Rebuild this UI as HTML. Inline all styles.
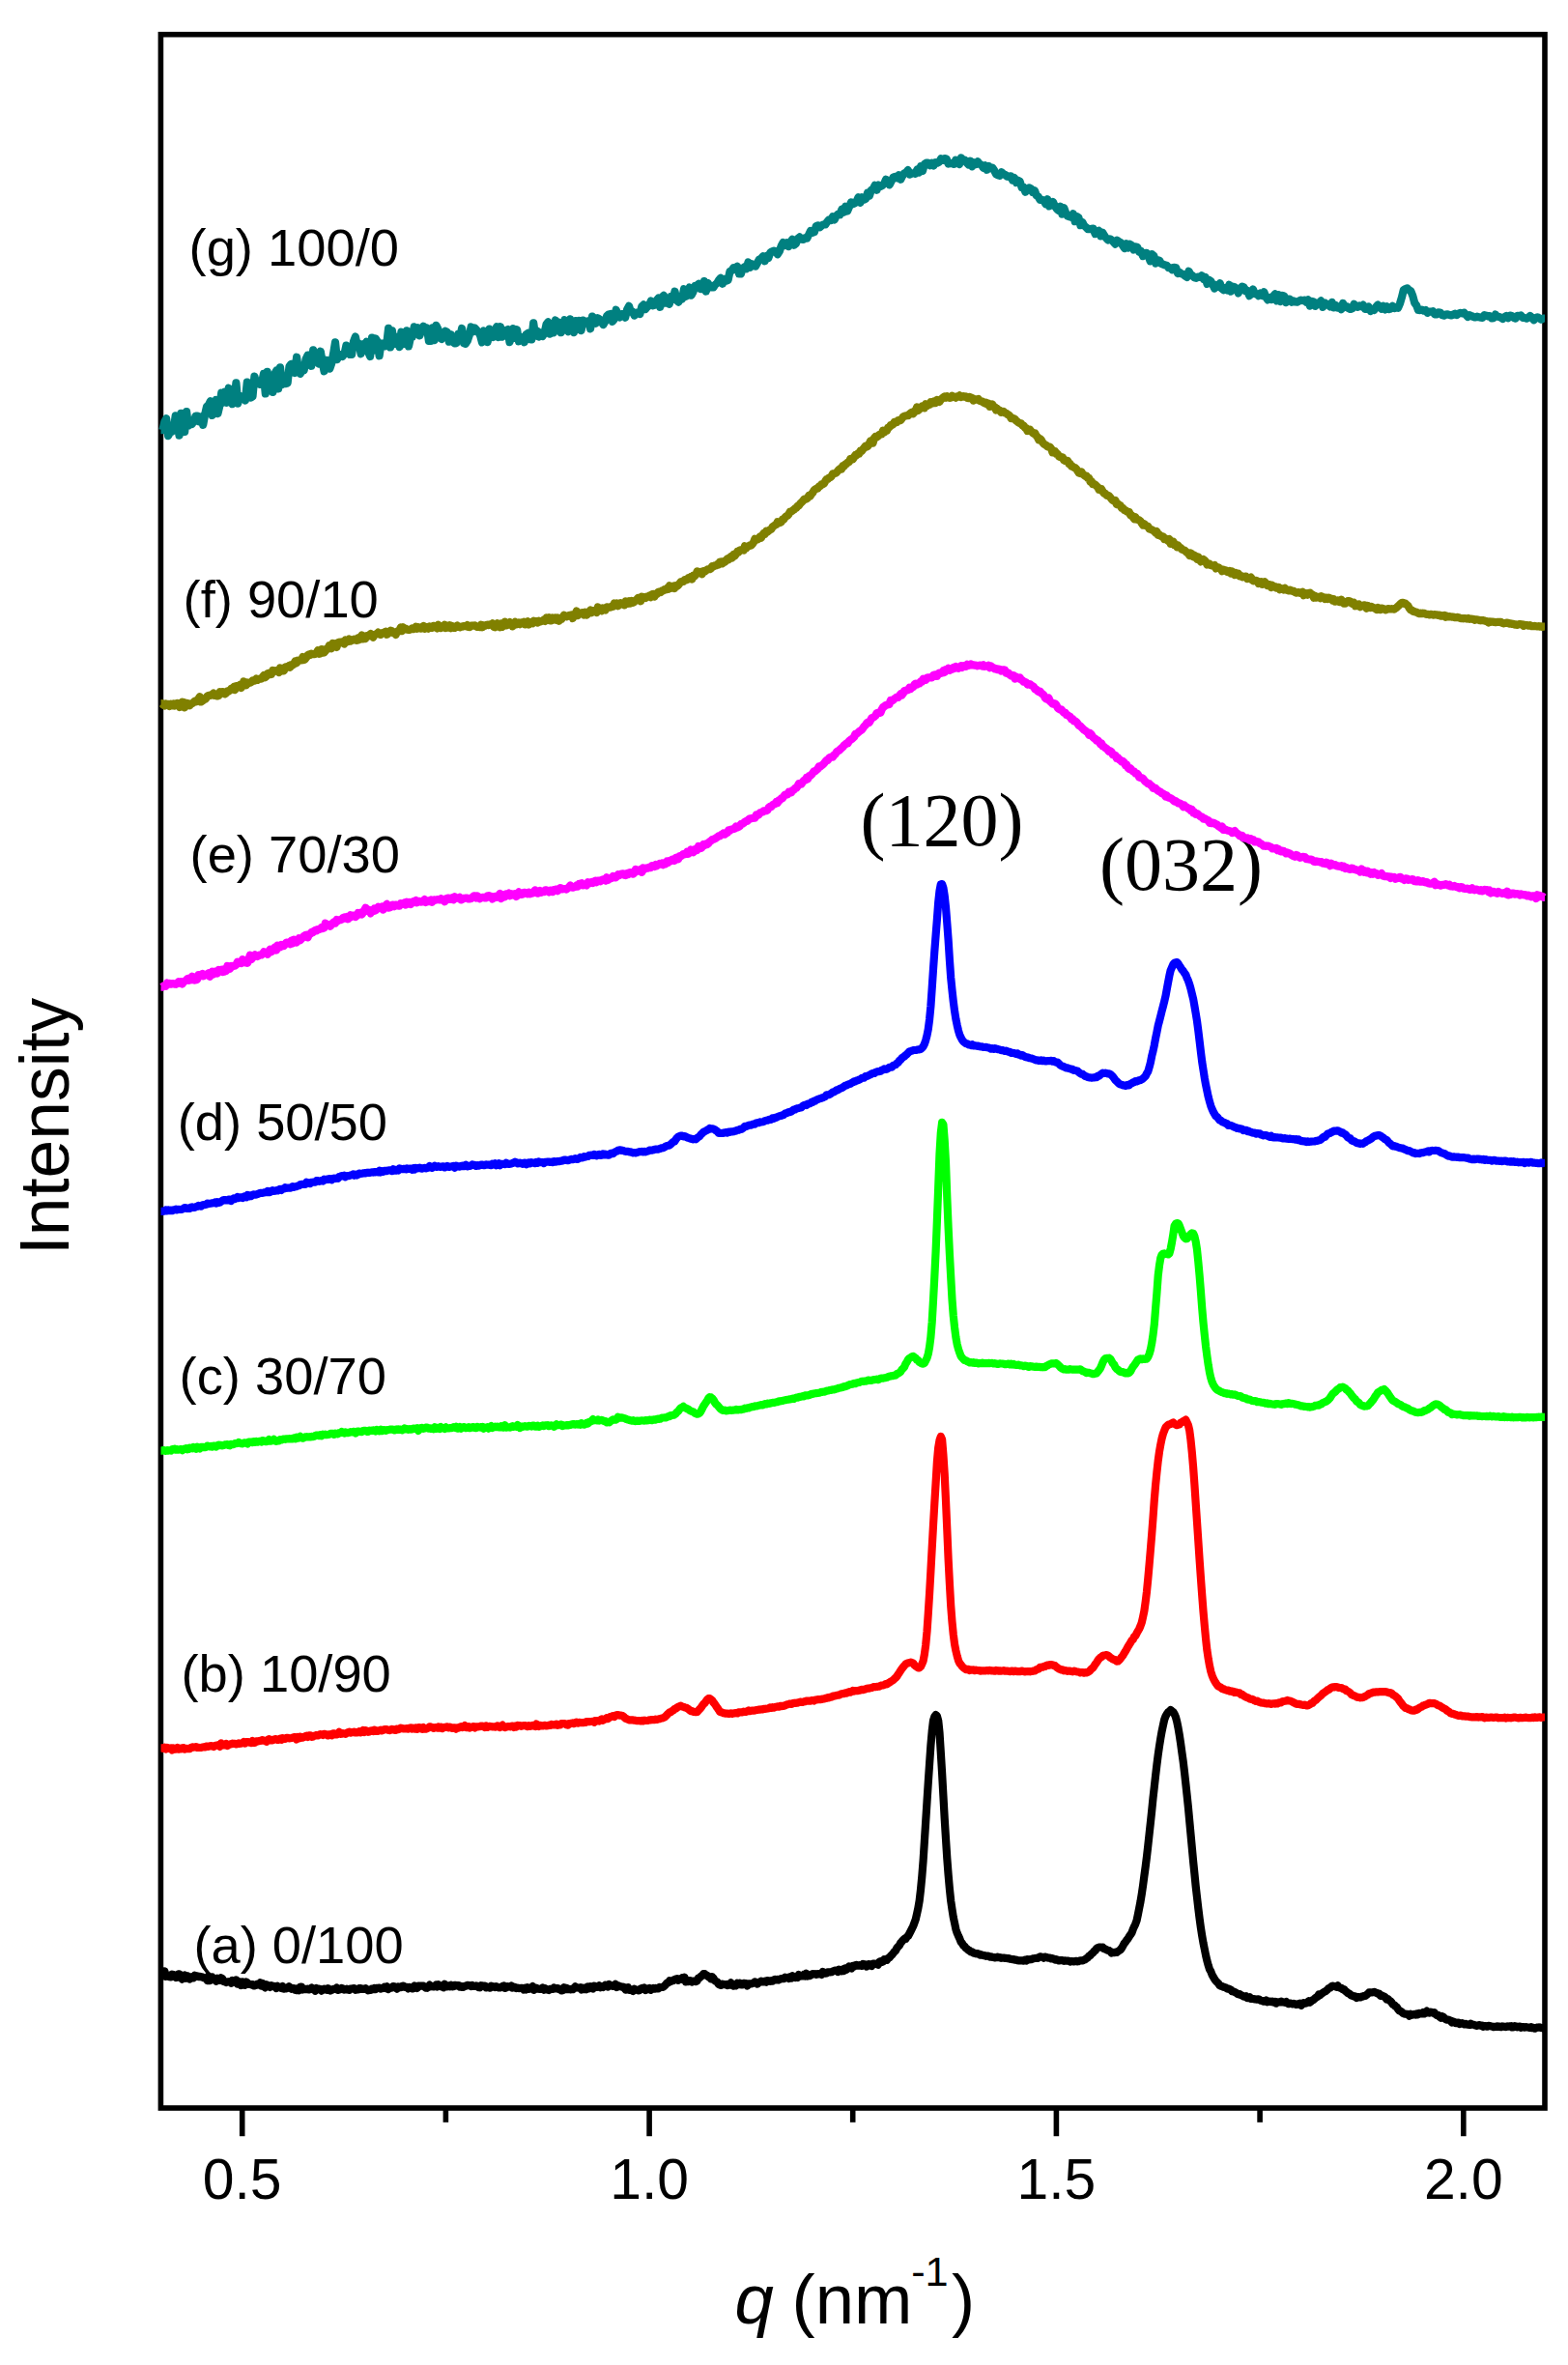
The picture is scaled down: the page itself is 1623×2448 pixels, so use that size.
<!DOCTYPE html>
<html lang="en"><head><meta charset="utf-8"><title>SAXS profiles</title>
<style>html,body{margin:0;padding:0;background:#fff}body{width:1623px;height:2448px;overflow:hidden}svg{display:block}.s{font-family:"Liberation Sans",Arial,Helvetica,sans-serif;fill:#000}.t{font-family:"Liberation Serif","Times New Roman",Times,serif;fill:#000}.c{fill:none;stroke-width:8.2;stroke-linejoin:round;stroke-linecap:butt}</style></head><body>
<svg width="1623" height="2448" viewBox="0 0 1623 2448">
<rect x="0" y="0" width="1623" height="2448" fill="#fff"/>
<g stroke="#000" stroke-width="5.6" fill="none" stroke-linecap="butt">
<line x1="250.7" y1="2182.0" x2="250.7" y2="2211.2"/>
<line x1="672.1" y1="2182.0" x2="672.1" y2="2211.2"/>
<line x1="1093.4" y1="2182.0" x2="1093.4" y2="2211.2"/>
<line x1="1514.8" y1="2182.0" x2="1514.8" y2="2211.2"/>
<line x1="461.4" y1="2182.0" x2="461.4" y2="2196.8"/>
<line x1="882.7" y1="2182.0" x2="882.7" y2="2196.8"/>
<line x1="1304.1" y1="2182.0" x2="1304.1" y2="2196.8"/>
</g>
<rect x="166.4" y="35.7" width="1432.6" height="2146.3" fill="none" stroke="#000" stroke-width="5.6"/>
<text class="t" x="890.5" y="875.2" font-size="78">(120)</text>
<text class="t" x="1138" y="920.5" font-size="78">(032)</text>
<polyline class="c" stroke="#000000" points="166.5,2045.1 167.8,2045.1 169.1,2044.7 170.4,2040.5 171.7,2045.7 173.0,2045.1 174.3,2044.7 175.6,2046.3 176.9,2046.5 178.2,2043.7 179.5,2044.0 180.8,2044.8 182.1,2047.0 183.4,2046.7 184.7,2043.3 186.0,2043.6 187.3,2047.0 188.6,2048.6 189.9,2045.6 191.2,2044.5 192.5,2047.7 193.8,2045.2 195.1,2047.0 196.4,2048.4 197.7,2046.9 199.0,2046.0 200.3,2047.2 201.6,2044.9 202.9,2045.8 204.2,2045.3 205.5,2046.1 206.8,2045.8 208.1,2046.4 209.4,2046.3 210.7,2047.2 212.0,2047.4 213.3,2048.0 214.6,2049.9 215.9,2045.4 217.2,2050.1 218.5,2047.9 219.8,2046.6 221.1,2048.4 222.4,2049.1 223.7,2050.7 225.0,2047.7 226.3,2049.8 227.6,2049.8 228.9,2047.3 230.2,2048.2 231.5,2051.0 232.8,2051.3 234.1,2052.0 235.4,2051.3 236.7,2051.3 238.0,2051.1 239.3,2052.7 240.6,2050.0 241.9,2051.2 243.2,2052.0 244.5,2049.5 245.8,2053.6 247.1,2050.9 248.4,2052.1 249.7,2055.1 251.0,2051.4 252.3,2051.9 253.6,2054.8 254.9,2051.5 256.2,2052.5 257.5,2053.9 258.8,2053.9 260.1,2054.3 261.4,2054.1 262.7,2055.5 264.0,2055.2 265.3,2054.8 266.6,2053.5 267.9,2053.6 269.2,2052.4 270.5,2055.6 271.8,2052.9 273.1,2056.1 274.4,2057.3 275.7,2054.3 277.0,2054.9 278.3,2055.2 279.6,2056.8 280.9,2055.2 282.2,2056.1 283.5,2055.8 284.8,2056.3 286.1,2058.0 287.4,2055.9 288.7,2057.0 290.0,2057.4 291.3,2058.0 292.6,2056.1 293.9,2058.5 295.2,2057.9 296.5,2058.4 297.8,2057.8 299.1,2056.3 300.4,2057.3 301.7,2058.7 303.0,2058.0 304.3,2058.0 305.6,2059.8 306.9,2060.2 308.2,2058.3 309.5,2060.1 310.8,2056.7 312.1,2056.7 313.4,2059.4 314.7,2058.4 316.0,2059.2 317.3,2059.2 318.6,2058.7 319.9,2059.5 321.2,2059.0 322.5,2057.6 323.8,2059.2 325.1,2059.2 326.4,2060.7 327.7,2058.1 329.0,2059.1 330.3,2058.7 331.6,2059.0 332.9,2060.6 334.2,2059.4 335.5,2058.7 336.8,2059.2 338.1,2059.8 339.4,2058.2 340.7,2058.9 342.0,2060.5 343.3,2059.9 344.6,2059.1 345.9,2058.7 347.2,2059.0 348.5,2057.7 349.8,2059.9 351.1,2059.4 352.4,2059.2 353.7,2057.9 355.0,2058.5 356.3,2059.6 357.6,2059.3 358.9,2058.7 360.2,2059.5 361.5,2059.9 362.8,2058.5 364.1,2058.6 365.4,2058.3 366.7,2058.1 368.0,2059.8 369.3,2059.5 370.6,2059.4 371.9,2058.0 373.2,2058.1 374.5,2058.9 375.8,2058.5 377.1,2059.0 378.4,2058.2 379.7,2059.3 381.0,2060.3 382.3,2060.0 383.6,2060.0 384.9,2058.6 386.2,2059.2 387.5,2058.0 388.8,2059.1 390.1,2057.9 391.4,2057.7 392.7,2057.5 394.0,2058.6 395.3,2058.2 396.6,2058.0 397.9,2056.8 399.2,2057.9 400.5,2056.4 401.8,2059.0 403.1,2057.5 404.4,2057.8 405.7,2057.5 407.0,2056.1 408.3,2056.3 409.6,2057.4 410.9,2058.7 412.2,2056.4 413.5,2056.7 414.8,2057.2 416.1,2055.8 417.4,2055.7 418.7,2056.8 420.0,2057.1 421.3,2056.8 422.6,2058.4 423.9,2056.9 425.2,2057.3 426.5,2058.4 427.8,2058.4 429.1,2055.5 430.4,2056.5 431.7,2057.8 433.0,2055.6 434.3,2055.9 435.6,2055.6 436.9,2055.5 438.2,2055.6 439.5,2056.7 440.8,2057.6 442.1,2057.8 443.4,2056.4 444.7,2054.7 446.0,2056.3 447.3,2056.0 448.6,2056.5 449.9,2056.1 451.2,2054.6 452.5,2056.4 453.8,2054.2 455.1,2055.4 456.4,2056.2 457.7,2056.2 459.0,2057.2 460.3,2053.8 461.6,2056.1 462.9,2056.4 464.2,2055.5 465.5,2056.3 466.8,2054.8 468.1,2056.3 469.4,2056.2 470.7,2054.8 472.0,2055.1 473.3,2055.5 474.6,2055.1 475.9,2056.6 477.2,2055.9 478.5,2056.9 479.8,2056.8 481.1,2055.8 482.4,2055.6 483.7,2054.9 485.0,2055.1 486.3,2055.1 487.6,2056.1 488.9,2055.0 490.2,2055.9 491.5,2056.0 492.8,2055.4 494.1,2055.7 495.4,2057.1 496.7,2057.3 498.0,2055.2 499.3,2055.8 500.6,2055.6 501.9,2055.7 503.2,2057.3 504.5,2056.6 505.8,2057.1 507.1,2057.6 508.4,2055.7 509.7,2056.0 511.0,2056.2 512.3,2057.1 513.6,2056.2 514.9,2056.9 516.2,2057.4 517.5,2057.5 518.8,2056.9 520.1,2056.0 521.4,2055.4 522.7,2057.8 524.0,2057.3 525.3,2056.1 526.6,2056.6 527.9,2056.7 529.2,2055.7 530.5,2057.5 531.8,2056.7 533.1,2057.2 534.4,2058.1 535.7,2057.5 537.0,2058.1 538.3,2058.0 539.6,2057.8 540.9,2057.8 542.2,2059.5 543.5,2057.8 544.8,2059.4 546.1,2057.3 547.4,2058.8 548.7,2058.4 550.0,2057.6 551.3,2056.1 552.6,2059.8 553.9,2057.5 555.2,2057.7 556.5,2058.7 557.8,2058.7 559.1,2059.0 560.4,2058.6 561.7,2057.6 563.0,2059.6 564.3,2058.2 565.6,2059.2 566.9,2059.5 568.2,2060.1 569.5,2058.9 570.8,2058.8 572.1,2058.9 573.4,2057.5 574.7,2058.5 576.0,2058.2 577.3,2058.1 578.6,2059.2 579.9,2058.8 581.2,2060.4 582.5,2060.2 583.8,2057.3 585.1,2059.0 586.4,2058.0 587.7,2059.2 589.0,2058.8 590.3,2059.4 591.6,2058.9 592.9,2059.2 594.2,2058.2 595.5,2056.3 596.8,2057.3 598.1,2057.5 599.4,2057.8 600.7,2057.2 602.0,2059.4 603.3,2057.8 604.6,2059.0 605.9,2057.5 607.2,2059.1 608.5,2056.6 609.8,2058.1 611.1,2056.3 612.4,2057.7 613.7,2058.5 615.0,2055.7 616.3,2056.2 617.6,2056.9 618.9,2056.4 620.2,2055.3 621.5,2057.2 622.8,2056.1 624.1,2057.0 625.4,2056.0 626.7,2054.7 628.0,2055.1 629.3,2056.5 630.6,2054.1 631.9,2054.8 633.2,2055.6 634.5,2055.9 635.8,2055.7 637.1,2053.8 638.4,2056.9 639.7,2055.2 641.0,2055.8 642.3,2056.2 643.6,2056.6 644.9,2056.5 646.2,2057.6 647.5,2059.5 648.8,2057.7 650.1,2057.2 651.4,2059.9 652.7,2059.8 654.0,2060.1 655.3,2060.9 656.6,2058.8 657.9,2059.6 659.2,2059.8 660.5,2060.4 661.8,2060.2 663.1,2058.5 664.4,2058.0 665.7,2058.9 667.0,2057.7 668.3,2059.9 669.6,2058.5 670.9,2058.5 672.2,2057.9 673.5,2059.8 674.8,2058.7 676.1,2058.0 677.4,2058.7 678.7,2057.9 680.0,2058.2 681.3,2058.5 682.6,2056.9 683.9,2057.2 685.2,2056.8 686.5,2056.8 687.8,2055.6 689.1,2054.2 690.4,2052.6 691.7,2052.4 693.0,2050.3 694.3,2051.0 695.6,2050.0 696.9,2050.1 698.2,2049.0 699.5,2048.5 700.8,2048.2 702.1,2049.7 703.4,2048.5 704.7,2048.5 706.0,2047.4 707.3,2049.2 708.6,2046.9 709.9,2051.4 711.2,2050.6 712.5,2051.1 713.8,2050.0 715.1,2050.2 716.4,2051.5 717.7,2050.6 719.0,2050.8 720.3,2051.2 721.6,2050.3 722.9,2047.4 724.2,2047.1 725.5,2045.7 726.8,2044.9 728.1,2043.2 729.4,2043.1 730.7,2044.4 732.0,2044.9 733.3,2046.3 734.6,2046.2 735.9,2048.3 737.2,2046.3 738.5,2047.6 739.8,2050.1 741.1,2050.9 742.4,2051.5 743.7,2053.8 745.0,2054.6 746.3,2054.9 747.6,2053.6 748.9,2054.0 750.2,2054.2 751.5,2054.2 752.8,2055.0 754.1,2053.8 755.4,2054.5 756.7,2052.4 758.0,2054.9 759.3,2055.6 760.6,2054.3 761.9,2055.2 763.2,2052.9 764.5,2054.0 765.8,2052.9 767.1,2054.4 768.4,2054.5 769.7,2052.8 771.0,2053.1 772.3,2053.2 773.6,2055.5 774.9,2053.3 776.2,2053.3 777.5,2053.4 778.8,2053.1 780.1,2052.5 781.4,2051.4 782.7,2051.8 784.0,2053.5 785.3,2052.2 786.6,2051.5 787.9,2050.6 789.2,2051.4 790.5,2051.3 791.8,2050.6 793.1,2051.6 794.4,2050.2 795.7,2050.3 797.0,2050.9 798.3,2050.2 799.6,2050.7 800.9,2049.3 802.2,2048.9 803.5,2049.4 804.8,2048.9 806.1,2049.5 807.4,2048.6 808.7,2048.1 810.0,2048.2 811.3,2048.2 812.6,2046.6 813.9,2047.2 815.2,2046.8 816.5,2047.9 817.8,2046.4 819.1,2047.5 820.4,2045.4 821.7,2046.3 823.0,2047.0 824.3,2045.8 825.6,2046.8 826.9,2044.1 828.2,2045.6 829.5,2045.5 830.8,2045.2 832.1,2043.9 833.4,2045.5 834.7,2042.9 836.0,2045.4 837.3,2044.7 838.6,2045.1 839.9,2043.9 841.2,2043.1 842.5,2043.4 843.8,2043.2 845.1,2043.9 846.4,2043.0 847.7,2043.4 849.0,2043.3 850.3,2043.9 851.6,2040.9 852.9,2042.0 854.2,2042.7 855.5,2042.5 856.8,2041.3 858.1,2041.3 859.4,2041.3 860.7,2041.2 862.0,2040.4 863.3,2040.1 864.6,2039.5 865.9,2039.8 867.2,2041.0 868.5,2038.8 869.8,2039.9 871.1,2040.4 872.4,2038.6 873.7,2039.9 875.0,2037.5 876.3,2038.6 877.6,2036.8 878.9,2035.5 880.2,2036.4 881.5,2037.3 882.8,2034.9 884.1,2035.5 885.4,2034.0 886.7,2033.9 888.0,2034.7 889.3,2034.0 890.6,2034.5 891.9,2034.9 893.2,2032.9 894.5,2033.2 895.8,2033.7 897.1,2035.4 898.4,2033.2 899.7,2033.0 901.0,2033.7 902.3,2034.9 903.6,2032.7 904.9,2032.7 906.2,2032.8 907.5,2033.0 908.8,2033.7 910.1,2030.8 911.4,2030.1 912.7,2030.9 914.0,2030.6 915.3,2028.1 916.6,2028.5 917.9,2028.9 919.2,2027.0 920.5,2026.4 921.8,2024.8 923.1,2023.6 924.4,2022.0 925.7,2020.3 927.0,2019.3 928.3,2016.5 929.6,2015.0 930.9,2013.8 932.2,2011.1 933.5,2009.7 934.8,2008.1 936.1,2006.8 937.4,2007.0 938.7,2004.9 940.0,2004.0 941.3,2001.5 942.6,1999.0 943.9,1996.4 945.2,1993.7 946.5,1990.2 947.8,1986.6 949.1,1980.8 950.4,1974.9 951.7,1967.2 953.0,1956.0 954.3,1942.4 955.6,1926.0 956.9,1905.8 958.2,1885.4 959.5,1865.0 960.8,1844.8 962.1,1825.6 963.4,1806.8 964.7,1792.0 966.0,1781.0 967.3,1776.9 968.6,1775.1 969.9,1776.3 971.2,1781.0 972.5,1793.4 973.8,1813.9 975.1,1835.3 976.4,1858.7 977.7,1882.2 979.0,1903.3 980.3,1923.6 981.6,1940.4 982.9,1955.1 984.2,1967.5 985.5,1976.4 986.8,1984.7 988.1,1990.7 989.4,1996.9 990.7,2000.9 992.0,2003.9 993.3,2006.6 994.6,2010.2 995.9,2011.5 997.2,2013.8 998.5,2014.8 999.8,2016.5 1001.1,2017.4 1002.4,2018.7 1003.7,2019.2 1005.0,2020.4 1006.3,2020.4 1007.6,2021.6 1008.9,2021.7 1010.2,2022.3 1011.5,2022.1 1012.8,2022.4 1014.1,2023.6 1015.4,2023.2 1016.7,2023.8 1018.0,2024.1 1019.3,2024.2 1020.6,2024.8 1021.9,2024.5 1023.2,2024.8 1024.5,2025.6 1025.8,2025.3 1027.1,2025.9 1028.4,2026.0 1029.7,2026.4 1031.0,2026.2 1032.3,2025.6 1033.6,2026.1 1034.9,2026.2 1036.2,2026.8 1037.5,2026.6 1038.8,2026.5 1040.1,2026.9 1041.4,2026.8 1042.7,2027.2 1044.0,2027.2 1045.3,2027.7 1046.6,2027.8 1047.9,2028.2 1049.2,2028.2 1050.5,2028.7 1051.8,2028.7 1053.1,2029.2 1054.4,2029.3 1055.7,2029.4 1057.0,2029.4 1058.3,2029.4 1059.6,2029.6 1060.9,2028.6 1062.2,2029.5 1063.5,2028.2 1064.8,2028.5 1066.1,2028.2 1067.4,2028.2 1068.7,2027.7 1070.0,2027.2 1071.3,2027.0 1072.6,2026.9 1073.9,2027.0 1075.2,2026.2 1076.5,2025.3 1077.8,2025.6 1079.1,2025.8 1080.4,2026.7 1081.7,2025.6 1083.0,2025.9 1084.3,2026.4 1085.6,2026.6 1086.9,2026.5 1088.2,2027.5 1089.5,2027.2 1090.8,2027.8 1092.1,2028.6 1093.4,2028.1 1094.7,2028.7 1096.0,2029.5 1097.3,2029.1 1098.6,2029.0 1099.9,2029.3 1101.2,2029.9 1102.5,2029.3 1103.8,2029.7 1105.1,2029.6 1106.4,2029.8 1107.7,2030.6 1109.0,2030.2 1110.3,2030.2 1111.6,2030.4 1112.9,2030.0 1114.2,2029.8 1115.5,2030.3 1116.8,2030.1 1118.1,2029.3 1119.4,2029.5 1120.7,2029.4 1122.0,2028.7 1123.3,2028.3 1124.6,2027.1 1125.9,2026.4 1127.2,2024.6 1128.5,2024.2 1129.8,2022.4 1131.1,2021.6 1132.4,2019.8 1133.7,2019.0 1135.0,2016.9 1136.3,2016.1 1137.6,2015.7 1138.9,2015.6 1140.2,2015.8 1141.5,2015.7 1142.8,2017.1 1144.1,2017.5 1145.4,2018.2 1146.7,2018.8 1148.0,2019.1 1149.3,2020.2 1150.6,2021.5 1151.9,2020.8 1153.2,2021.2 1154.5,2020.6 1155.8,2021.0 1157.1,2020.0 1158.4,2019.1 1159.7,2018.3 1161.0,2016.5 1162.3,2014.2 1163.6,2011.8 1164.9,2010.3 1166.2,2008.3 1167.5,2006.8 1168.8,2004.5 1170.1,2002.7 1171.4,2000.7 1172.7,1997.2 1174.0,1994.2 1175.3,1991.4 1176.6,1987.8 1177.9,1981.6 1179.2,1975.0 1180.5,1968.4 1181.8,1960.3 1183.1,1951.5 1184.4,1941.6 1185.7,1932.1 1187.0,1921.8 1188.3,1910.4 1189.6,1898.4 1190.9,1886.5 1192.2,1874.2 1193.5,1861.2 1194.8,1849.6 1196.1,1837.9 1197.4,1826.8 1198.7,1816.6 1200.0,1807.5 1201.3,1799.3 1202.6,1792.1 1203.9,1785.9 1205.2,1780.0 1206.5,1776.5 1207.8,1774.1 1209.1,1772.3 1210.4,1771.5 1211.7,1770.1 1213.0,1771.1 1214.3,1772.0 1215.6,1774.1 1216.9,1777.1 1218.2,1782.0 1219.5,1788.4 1220.8,1796.0 1222.1,1804.7 1223.4,1814.1 1224.7,1823.4 1226.0,1834.2 1227.3,1846.0 1228.6,1858.1 1229.9,1870.6 1231.2,1884.7 1232.5,1898.6 1233.8,1912.7 1235.1,1926.7 1236.4,1939.3 1237.7,1952.5 1239.0,1963.9 1240.3,1975.2 1241.6,1985.7 1242.9,1995.2 1244.2,2003.6 1245.5,2011.1 1246.8,2017.5 1248.1,2024.0 1249.4,2029.7 1250.7,2034.3 1252.0,2038.4 1253.3,2040.6 1254.6,2044.2 1255.9,2046.4 1257.2,2048.6 1258.5,2050.5 1259.8,2051.7 1261.1,2052.9 1262.4,2054.9 1263.7,2055.7 1265.0,2056.0 1266.3,2056.8 1267.6,2057.1 1268.9,2057.4 1270.2,2058.6 1271.5,2058.6 1272.8,2058.9 1274.1,2059.7 1275.4,2061.2 1276.7,2061.4 1278.0,2062.0 1279.3,2062.6 1280.6,2063.7 1281.9,2064.3 1283.2,2064.1 1284.5,2065.2 1285.8,2065.6 1287.1,2066.5 1288.4,2066.8 1289.7,2066.2 1291.0,2068.1 1292.3,2068.0 1293.6,2067.3 1294.9,2069.0 1296.2,2068.8 1297.5,2069.2 1298.8,2069.3 1300.1,2069.6 1301.4,2069.6 1302.7,2069.3 1304.0,2070.1 1305.3,2070.8 1306.6,2071.1 1307.9,2071.6 1309.2,2071.5 1310.5,2070.6 1311.8,2072.3 1313.1,2071.7 1314.4,2071.5 1315.7,2072.1 1317.0,2071.6 1318.3,2072.6 1319.6,2072.0 1320.9,2073.5 1322.2,2072.4 1323.5,2072.3 1324.8,2072.3 1326.1,2071.6 1327.4,2072.4 1328.7,2072.5 1330.0,2072.8 1331.3,2072.0 1332.6,2073.4 1333.9,2074.2 1335.2,2073.5 1336.5,2073.9 1337.8,2074.3 1339.1,2073.9 1340.4,2074.2 1341.7,2075.0 1343.0,2074.7 1344.3,2074.0 1345.6,2073.7 1346.9,2075.7 1348.2,2074.5 1349.5,2073.2 1350.8,2073.7 1352.1,2073.5 1353.4,2072.8 1354.7,2071.3 1356.0,2072.6 1357.3,2071.4 1358.6,2070.3 1359.9,2069.8 1361.2,2068.4 1362.5,2067.3 1363.8,2066.9 1365.1,2064.4 1366.4,2065.0 1367.7,2063.7 1369.0,2062.9 1370.3,2062.0 1371.6,2061.4 1372.9,2060.4 1374.2,2059.3 1375.5,2057.9 1376.8,2057.6 1378.1,2056.3 1379.4,2055.5 1380.7,2056.0 1382.0,2056.1 1383.3,2056.7 1384.6,2055.3 1385.9,2057.1 1387.2,2057.6 1388.5,2057.8 1389.8,2059.2 1391.1,2059.0 1392.4,2060.8 1393.7,2061.7 1395.0,2063.0 1396.3,2063.4 1397.6,2064.5 1398.9,2065.6 1400.2,2065.9 1401.5,2066.5 1402.8,2066.4 1404.1,2068.0 1405.4,2067.0 1406.7,2067.4 1408.0,2067.5 1409.3,2066.7 1410.6,2066.7 1411.9,2065.8 1413.2,2066.0 1414.5,2064.8 1415.8,2063.9 1417.1,2062.4 1418.4,2062.4 1419.7,2062.5 1421.0,2062.3 1422.3,2061.9 1423.6,2062.4 1424.9,2063.0 1426.2,2063.7 1427.5,2063.5 1428.8,2065.8 1430.1,2065.4 1431.4,2066.1 1432.7,2066.6 1434.0,2067.6 1435.3,2069.6 1436.6,2069.2 1437.9,2070.5 1439.2,2071.4 1440.5,2072.8 1441.8,2075.0 1443.1,2075.2 1444.4,2076.7 1445.7,2077.5 1447.0,2079.6 1448.3,2081.2 1449.6,2081.8 1450.9,2082.6 1452.2,2083.9 1453.5,2084.4 1454.8,2084.7 1456.1,2084.8 1457.4,2084.8 1458.7,2086.6 1460.0,2084.9 1461.3,2085.9 1462.6,2085.3 1463.9,2084.9 1465.2,2085.5 1466.5,2084.4 1467.8,2085.2 1469.1,2083.9 1470.4,2084.4 1471.7,2084.5 1473.0,2083.0 1474.3,2084.3 1475.6,2083.4 1476.9,2081.7 1478.2,2083.3 1479.5,2083.6 1480.8,2082.6 1482.1,2083.0 1483.4,2083.7 1484.7,2083.2 1486.0,2084.9 1487.3,2085.9 1488.6,2085.9 1489.9,2087.4 1491.2,2088.6 1492.5,2087.0 1493.8,2087.7 1495.1,2088.8 1496.4,2090.1 1497.7,2090.6 1499.0,2090.5 1500.3,2091.0 1501.6,2091.7 1502.9,2093.4 1504.2,2092.5 1505.5,2093.0 1506.8,2094.1 1508.1,2093.7 1509.4,2093.5 1510.7,2095.0 1512.0,2094.6 1513.3,2094.2 1514.6,2094.6 1515.9,2095.4 1517.2,2094.9 1518.5,2095.3 1519.8,2095.8 1521.1,2096.0 1522.4,2094.7 1523.7,2095.5 1525.0,2095.7 1526.3,2096.1 1527.6,2096.6 1528.9,2096.9 1530.2,2096.2 1531.5,2096.0 1532.8,2096.8 1534.1,2096.5 1535.4,2097.8 1536.7,2097.2 1538.0,2097.1 1539.3,2097.7 1540.6,2096.9 1541.9,2097.1 1543.2,2097.3 1544.5,2097.7 1545.8,2098.1 1547.1,2097.9 1548.4,2097.9 1549.7,2097.4 1551.0,2097.8 1552.3,2097.5 1553.6,2098.2 1554.9,2097.4 1556.2,2097.7 1557.5,2097.8 1558.8,2098.1 1560.1,2097.4 1561.4,2097.7 1562.7,2097.4 1564.0,2097.2 1565.3,2098.5 1566.6,2098.2 1567.9,2097.2 1569.2,2097.5 1570.5,2098.4 1571.8,2097.8 1573.1,2097.6 1574.4,2098.8 1575.7,2098.0 1577.0,2098.1 1578.3,2098.6 1579.6,2098.0 1580.9,2098.5 1582.2,2098.6 1583.5,2098.9 1584.8,2098.2 1586.1,2099.2 1587.4,2098.9 1588.7,2099.7 1590.0,2098.9 1591.3,2098.6 1592.6,2098.7 1593.9,2098.4 1595.2,2099.0 1596.5,2099.1 1597.8,2099.6 1599.0,2099.6"/>
<polyline class="c" stroke="#ff0000" points="166.5,1809.4 167.8,1809.4 169.1,1809.9 170.4,1808.8 171.7,1810.3 173.0,1808.9 174.3,1809.8 175.6,1809.7 176.9,1809.3 178.2,1811.5 179.5,1809.4 180.8,1810.1 182.1,1810.5 183.4,1809.1 184.7,1810.6 186.0,1809.7 187.3,1810.4 188.6,1809.3 189.9,1809.2 191.2,1810.5 192.5,1810.1 193.8,1809.9 195.1,1810.2 196.4,1810.1 197.7,1809.0 199.0,1808.4 200.3,1808.6 201.6,1808.5 202.9,1808.1 204.2,1808.9 205.5,1808.9 206.8,1809.0 208.1,1809.0 209.4,1808.5 210.7,1808.4 212.0,1808.5 213.3,1807.7 214.6,1807.7 215.9,1807.9 217.2,1807.3 218.5,1807.2 219.8,1807.3 221.1,1808.0 222.4,1807.2 223.7,1806.7 225.0,1806.4 226.3,1806.5 227.6,1807.8 228.9,1804.4 230.2,1806.5 231.5,1806.2 232.8,1806.4 234.1,1805.1 235.4,1806.9 236.7,1806.1 238.0,1805.4 239.3,1805.4 240.6,1804.7 241.9,1805.0 243.2,1804.8 244.5,1805.3 245.8,1804.8 247.1,1804.4 248.4,1804.8 249.7,1804.6 251.0,1804.2 252.3,1803.1 253.6,1804.5 254.9,1803.0 256.2,1803.0 257.5,1803.4 258.8,1803.7 260.1,1804.1 261.4,1802.1 262.7,1803.8 264.0,1803.8 265.3,1802.4 266.6,1802.5 267.9,1802.1 269.2,1802.0 270.5,1801.4 271.8,1801.1 273.1,1801.8 274.4,1802.0 275.7,1802.8 277.0,1801.0 278.3,1800.2 279.6,1801.4 280.9,1800.9 282.2,1801.3 283.5,1800.7 284.8,1800.0 286.1,1800.2 287.4,1801.0 288.7,1800.6 290.0,1799.7 291.3,1800.7 292.6,1799.2 293.9,1799.6 295.2,1799.9 296.5,1798.8 297.8,1798.8 299.1,1799.4 300.4,1799.2 301.7,1799.0 303.0,1798.6 304.3,1798.2 305.6,1798.2 306.9,1800.4 308.2,1798.0 309.5,1799.2 310.8,1797.8 312.1,1798.8 313.4,1798.6 314.7,1798.0 316.0,1797.2 317.3,1796.6 318.6,1797.9 319.9,1796.4 321.2,1796.3 322.5,1797.8 323.8,1797.7 325.1,1796.7 326.4,1796.4 327.7,1796.0 329.0,1796.5 330.3,1795.9 331.6,1795.1 332.9,1795.5 334.2,1796.0 335.5,1794.8 336.8,1795.0 338.1,1795.6 339.4,1796.4 340.7,1795.4 342.0,1795.2 343.3,1796.2 344.6,1794.3 345.9,1794.4 347.2,1795.3 348.5,1795.3 349.8,1794.8 351.1,1792.9 352.4,1794.8 353.7,1794.7 355.0,1794.2 356.3,1794.5 357.6,1794.8 358.9,1793.9 360.2,1793.2 361.5,1792.6 362.8,1793.6 364.1,1793.1 365.4,1793.1 366.7,1792.6 368.0,1793.4 369.3,1793.5 370.6,1793.3 371.9,1792.2 373.2,1793.3 374.5,1792.9 375.8,1791.1 377.1,1792.9 378.4,1791.2 379.7,1791.6 381.0,1792.8 382.3,1792.5 383.6,1791.6 384.9,1791.4 386.2,1792.0 387.5,1790.7 388.8,1791.9 390.1,1791.4 391.4,1791.9 392.7,1791.3 394.0,1790.6 395.3,1791.3 396.6,1790.9 397.9,1790.2 399.2,1790.2 400.5,1790.2 401.8,1790.8 403.1,1791.1 404.4,1790.6 405.7,1789.8 407.0,1790.2 408.3,1790.7 409.6,1790.9 410.9,1789.6 412.2,1790.2 413.5,1789.7 414.8,1788.6 416.1,1789.0 417.4,1789.4 418.7,1789.3 420.0,1789.3 421.3,1789.1 422.6,1789.6 423.9,1788.7 425.2,1788.3 426.5,1789.5 427.8,1788.7 429.1,1789.5 430.4,1788.5 431.7,1789.7 433.0,1788.1 434.3,1788.1 435.6,1789.2 436.9,1789.8 438.2,1788.2 439.5,1789.6 440.8,1789.6 442.1,1789.1 443.4,1788.5 444.7,1787.3 446.0,1787.6 447.3,1788.0 448.6,1788.8 449.9,1788.3 451.2,1788.0 452.5,1788.5 453.8,1787.4 455.1,1788.6 456.4,1787.8 457.7,1789.1 459.0,1788.4 460.3,1787.8 461.6,1787.9 462.9,1787.3 464.2,1788.3 465.5,1787.6 466.8,1788.1 468.1,1788.8 469.4,1788.3 470.7,1788.4 472.0,1789.6 473.3,1788.4 474.6,1788.7 475.9,1787.8 477.2,1787.2 478.5,1788.1 479.8,1787.2 481.1,1786.1 482.4,1788.2 483.7,1788.0 485.0,1787.2 486.3,1788.5 487.6,1787.7 488.9,1787.4 490.2,1787.1 491.5,1788.4 492.8,1787.4 494.1,1787.3 495.4,1787.3 496.7,1787.1 498.0,1786.5 499.3,1787.1 500.6,1786.9 501.9,1787.9 503.2,1786.6 504.5,1787.8 505.8,1787.1 507.1,1786.9 508.4,1787.2 509.7,1787.3 511.0,1787.3 512.3,1787.6 513.6,1787.4 514.9,1786.3 516.2,1786.8 517.5,1788.1 518.8,1787.1 520.1,1785.7 521.4,1787.2 522.7,1788.1 524.0,1787.7 525.3,1787.0 526.6,1787.1 527.9,1787.3 529.2,1786.8 530.5,1786.6 531.8,1787.9 533.1,1786.6 534.4,1787.4 535.7,1785.8 537.0,1786.3 538.3,1786.0 539.6,1786.9 540.9,1786.3 542.2,1786.2 543.5,1786.0 544.8,1786.6 546.1,1787.1 547.4,1786.1 548.7,1786.8 550.0,1786.3 551.3,1785.9 552.6,1786.5 553.9,1787.0 555.2,1784.6 556.5,1786.5 557.8,1787.1 559.1,1785.9 560.4,1786.4 561.7,1786.5 563.0,1786.1 564.3,1785.9 565.6,1786.5 566.9,1786.3 568.2,1785.7 569.5,1785.9 570.8,1784.9 572.1,1785.3 573.4,1785.4 574.7,1785.2 576.0,1784.7 577.3,1785.8 578.6,1785.2 579.9,1785.3 581.2,1784.0 582.5,1784.3 583.8,1784.1 585.1,1784.3 586.4,1785.3 587.7,1785.7 589.0,1784.2 590.3,1784.2 591.6,1783.7 592.9,1783.4 594.2,1784.1 595.5,1783.2 596.8,1782.7 598.1,1783.6 599.4,1782.9 600.7,1783.1 602.0,1783.0 603.3,1783.2 604.6,1782.9 605.9,1783.0 607.2,1782.2 608.5,1782.1 609.8,1782.2 611.1,1782.0 612.4,1782.0 613.7,1781.8 615.0,1782.7 616.3,1781.2 617.6,1781.4 618.9,1781.0 620.2,1781.5 621.5,1780.1 622.8,1779.5 624.1,1780.7 625.4,1780.0 626.7,1779.3 628.0,1778.3 629.3,1779.1 630.6,1778.1 631.9,1777.0 633.2,1776.6 634.5,1776.1 635.8,1777.0 637.1,1775.7 638.4,1775.0 639.7,1775.0 641.0,1775.6 642.3,1775.5 643.6,1775.7 644.9,1776.4 646.2,1777.5 647.5,1778.7 648.8,1779.3 650.1,1779.9 651.4,1780.3 652.7,1780.3 654.0,1780.4 655.3,1780.4 656.6,1780.7 657.9,1780.8 659.2,1781.2 660.5,1781.2 661.8,1781.0 663.1,1781.5 664.4,1780.9 665.7,1781.4 667.0,1780.7 668.3,1780.9 669.6,1781.0 670.9,1780.9 672.2,1780.3 673.5,1780.4 674.8,1780.0 676.1,1780.1 677.4,1780.1 678.7,1779.6 680.0,1780.0 681.3,1779.5 682.6,1779.3 683.9,1778.7 685.2,1778.5 686.5,1778.1 687.8,1777.5 689.1,1776.4 690.4,1775.0 691.7,1773.7 693.0,1772.5 694.3,1772.2 695.6,1771.0 696.9,1770.3 698.2,1769.0 699.5,1768.6 700.8,1767.5 702.1,1766.7 703.4,1766.1 704.7,1765.7 706.0,1766.5 707.3,1766.7 708.6,1767.3 709.9,1767.7 711.2,1768.2 712.5,1769.0 713.8,1770.2 715.1,1771.1 716.4,1771.2 717.7,1771.9 719.0,1772.0 720.3,1772.2 721.6,1772.0 722.9,1770.5 724.2,1769.1 725.5,1767.7 726.8,1765.7 728.1,1764.0 729.4,1762.9 730.7,1760.9 732.0,1759.2 733.3,1758.2 734.6,1758.1 735.9,1759.2 737.2,1760.1 738.5,1762.3 739.8,1763.8 741.1,1765.7 742.4,1767.7 743.7,1769.5 745.0,1771.7 746.3,1772.3 747.6,1772.6 748.9,1773.2 750.2,1773.4 751.5,1773.7 752.8,1773.7 754.1,1773.8 755.4,1774.0 756.7,1773.3 758.0,1773.8 759.3,1773.4 760.6,1773.4 761.9,1773.0 763.2,1773.4 764.5,1772.4 765.8,1772.3 767.1,1772.3 768.4,1772.4 769.7,1771.7 771.0,1771.9 772.3,1771.8 773.6,1771.1 774.9,1770.5 776.2,1771.2 777.5,1770.8 778.8,1770.6 780.1,1770.7 781.4,1770.5 782.7,1770.0 784.0,1770.0 785.3,1769.5 786.6,1769.7 787.9,1769.3 789.2,1769.3 790.5,1768.8 791.8,1768.8 793.1,1768.7 794.4,1768.5 795.7,1768.2 797.0,1767.4 798.3,1767.9 799.6,1767.2 800.9,1767.6 802.2,1767.1 803.5,1766.8 804.8,1766.4 806.1,1766.7 807.4,1765.9 808.7,1766.1 810.0,1765.9 811.3,1766.0 812.6,1765.3 813.9,1764.6 815.2,1764.2 816.5,1763.9 817.8,1763.5 819.1,1763.9 820.4,1763.4 821.7,1762.8 823.0,1763.0 824.3,1762.6 825.6,1762.6 826.9,1762.2 828.2,1761.6 829.5,1761.8 830.8,1761.8 832.1,1761.4 833.4,1761.2 834.7,1760.7 836.0,1760.6 837.3,1760.6 838.6,1760.7 839.9,1760.1 841.2,1760.0 842.5,1760.5 843.8,1759.5 845.1,1759.5 846.4,1759.1 847.7,1759.1 849.0,1759.1 850.3,1758.9 851.6,1758.6 852.9,1758.5 854.2,1757.9 855.5,1757.8 856.8,1757.1 858.1,1757.3 859.4,1756.5 860.7,1756.6 862.0,1755.7 863.3,1755.7 864.6,1755.3 865.9,1755.0 867.2,1754.5 868.5,1754.6 869.8,1753.9 871.1,1753.2 872.4,1753.0 873.7,1753.1 875.0,1752.3 876.3,1752.7 877.6,1751.8 878.9,1751.2 880.2,1751.6 881.5,1750.9 882.8,1749.9 884.1,1750.6 885.4,1750.0 886.7,1750.2 888.0,1750.1 889.3,1749.8 890.6,1749.3 891.9,1748.8 893.2,1749.2 894.5,1748.7 895.8,1748.4 897.1,1747.8 898.4,1747.7 899.7,1747.6 901.0,1747.2 902.3,1747.0 903.6,1746.4 904.9,1746.0 906.2,1746.2 907.5,1745.8 908.8,1745.8 910.1,1745.6 911.4,1744.9 912.7,1744.5 914.0,1744.5 915.3,1744.0 916.6,1743.1 917.9,1743.3 919.2,1742.4 920.5,1741.7 921.8,1740.7 923.1,1740.0 924.4,1739.1 925.7,1737.8 927.0,1736.8 928.3,1735.3 929.6,1733.1 930.9,1731.3 932.2,1729.3 933.5,1727.3 934.8,1725.7 936.1,1724.1 937.4,1722.6 938.7,1721.8 940.0,1721.3 941.3,1721.2 942.6,1720.5 943.9,1721.0 945.2,1721.5 946.5,1723.6 947.8,1724.6 949.1,1725.5 950.4,1726.4 951.7,1726.3 953.0,1725.1 954.3,1722.5 955.6,1719.3 956.9,1712.3 958.2,1702.7 959.5,1688.9 960.8,1669.9 962.1,1649.2 963.4,1626.3 964.7,1602.2 966.0,1578.8 967.3,1556.3 968.6,1535.1 969.9,1513.2 971.2,1498.4 972.5,1490.9 973.8,1487.0 975.1,1489.9 976.4,1505.8 977.7,1525.7 979.0,1553.1 980.3,1583.1 981.6,1613.6 982.9,1639.0 984.2,1662.1 985.5,1678.8 986.8,1692.0 988.1,1702.0 989.4,1708.6 990.7,1714.1 992.0,1718.7 993.3,1721.6 994.6,1723.0 995.9,1724.9 997.2,1726.2 998.5,1727.1 999.8,1728.1 1001.1,1728.1 1002.4,1727.9 1003.7,1729.0 1005.0,1728.4 1006.3,1728.7 1007.6,1728.4 1008.9,1729.1 1010.2,1728.7 1011.5,1729.0 1012.8,1729.0 1014.1,1729.4 1015.4,1729.6 1016.7,1729.3 1018.0,1729.4 1019.3,1729.3 1020.6,1729.3 1021.9,1729.0 1023.2,1729.4 1024.5,1728.8 1025.8,1729.5 1027.1,1729.4 1028.4,1729.4 1029.7,1729.7 1031.0,1728.9 1032.3,1729.2 1033.6,1729.6 1034.9,1729.4 1036.2,1729.6 1037.5,1729.5 1038.8,1729.2 1040.1,1729.7 1041.4,1729.6 1042.7,1729.7 1044.0,1729.8 1045.3,1730.2 1046.6,1729.5 1047.9,1729.6 1049.2,1730.1 1050.5,1729.6 1051.8,1729.9 1053.1,1730.1 1054.4,1730.0 1055.7,1730.1 1057.0,1729.9 1058.3,1729.5 1059.6,1730.2 1060.9,1730.3 1062.2,1730.2 1063.5,1730.0 1064.8,1730.1 1066.1,1730.3 1067.4,1730.0 1068.7,1729.9 1070.0,1729.5 1071.3,1729.4 1072.6,1728.3 1073.9,1727.8 1075.2,1727.5 1076.5,1725.9 1077.8,1725.7 1079.1,1725.7 1080.4,1724.9 1081.7,1724.9 1083.0,1723.9 1084.3,1723.6 1085.6,1723.8 1086.9,1723.1 1088.2,1723.2 1089.5,1723.3 1090.8,1724.1 1092.1,1724.2 1093.4,1725.4 1094.7,1726.5 1096.0,1727.4 1097.3,1727.9 1098.6,1728.5 1099.9,1728.4 1101.2,1729.3 1102.5,1729.1 1103.8,1729.4 1105.1,1729.8 1106.4,1729.6 1107.7,1729.7 1109.0,1730.0 1110.3,1730.3 1111.6,1729.7 1112.9,1729.8 1114.2,1730.5 1115.5,1730.5 1116.8,1730.7 1118.1,1731.4 1119.4,1731.0 1120.7,1731.1 1122.0,1731.6 1123.3,1731.1 1124.6,1731.3 1125.9,1730.8 1127.2,1730.1 1128.5,1729.0 1129.8,1727.4 1131.1,1726.4 1132.4,1724.7 1133.7,1722.6 1135.0,1721.0 1136.3,1718.8 1137.6,1717.1 1138.9,1715.8 1140.2,1715.0 1141.5,1713.9 1142.8,1713.5 1144.1,1713.3 1145.4,1713.0 1146.7,1713.5 1148.0,1714.5 1149.3,1715.8 1150.6,1716.4 1151.9,1717.4 1153.2,1717.9 1154.5,1718.1 1155.8,1719.6 1157.1,1719.5 1158.4,1718.4 1159.7,1717.0 1161.0,1715.1 1162.3,1713.6 1163.6,1711.2 1164.9,1709.2 1166.2,1706.9 1167.5,1704.5 1168.8,1702.5 1170.1,1700.3 1171.4,1698.1 1172.7,1697.1 1174.0,1694.0 1175.3,1693.3 1176.6,1690.6 1177.9,1688.3 1179.2,1686.0 1180.5,1683.0 1181.8,1679.3 1183.1,1673.6 1184.4,1667.4 1185.7,1658.0 1187.0,1647.4 1188.3,1634.0 1189.6,1619.3 1190.9,1604.0 1192.2,1588.2 1193.5,1571.0 1194.8,1552.6 1196.1,1537.2 1197.4,1524.0 1198.7,1512.1 1200.0,1502.6 1201.3,1495.3 1202.6,1488.9 1203.9,1484.1 1205.2,1480.7 1206.5,1477.5 1207.8,1476.2 1209.1,1474.9 1210.4,1474.4 1211.7,1474.1 1213.0,1473.1 1214.3,1472.5 1215.6,1473.8 1216.9,1474.6 1218.2,1475.2 1219.5,1474.7 1220.8,1474.5 1222.1,1472.7 1223.4,1472.3 1224.7,1471.0 1226.0,1470.5 1227.3,1469.6 1228.6,1472.3 1229.9,1475.0 1231.2,1480.5 1232.5,1490.6 1233.8,1503.4 1235.1,1518.6 1236.4,1536.5 1237.7,1556.0 1239.0,1575.2 1240.3,1594.8 1241.6,1614.6 1242.9,1633.0 1244.2,1650.9 1245.5,1667.9 1246.8,1682.6 1248.1,1696.4 1249.4,1708.2 1250.7,1716.8 1252.0,1724.2 1253.3,1730.1 1254.6,1734.3 1255.9,1737.6 1257.2,1739.9 1258.5,1742.1 1259.8,1744.0 1261.1,1745.5 1262.4,1746.1 1263.7,1746.6 1265.0,1748.1 1266.3,1748.1 1267.6,1748.9 1268.9,1749.3 1270.2,1749.9 1271.5,1749.6 1272.8,1750.6 1274.1,1750.4 1275.4,1751.1 1276.7,1750.9 1278.0,1752.0 1279.3,1751.6 1280.6,1751.9 1281.9,1752.3 1283.2,1752.4 1284.5,1754.1 1285.8,1753.9 1287.1,1755.1 1288.4,1755.9 1289.7,1756.6 1291.0,1757.1 1292.3,1757.6 1293.6,1758.5 1294.9,1758.8 1296.2,1758.9 1297.5,1759.6 1298.8,1760.4 1300.1,1761.0 1301.4,1760.6 1302.7,1761.7 1304.0,1761.9 1305.3,1762.5 1306.6,1762.6 1307.9,1762.7 1309.2,1763.1 1310.5,1763.3 1311.8,1763.4 1313.1,1763.2 1314.4,1763.5 1315.7,1763.9 1317.0,1763.5 1318.3,1763.3 1319.6,1763.6 1320.9,1763.2 1322.2,1763.4 1323.5,1762.6 1324.8,1762.3 1326.1,1762.3 1327.4,1761.3 1328.7,1761.0 1330.0,1760.8 1331.3,1760.5 1332.6,1759.9 1333.9,1760.5 1335.2,1760.5 1336.5,1761.0 1337.8,1761.7 1339.1,1762.4 1340.4,1762.9 1341.7,1763.7 1343.0,1763.9 1344.3,1763.9 1345.6,1764.1 1346.9,1764.5 1348.2,1764.7 1349.5,1765.0 1350.8,1764.7 1352.1,1765.3 1353.4,1765.4 1354.7,1765.0 1356.0,1764.1 1357.3,1763.0 1358.6,1762.9 1359.9,1761.1 1361.2,1760.2 1362.5,1759.4 1363.8,1757.9 1365.1,1756.7 1366.4,1755.7 1367.7,1754.7 1369.0,1753.1 1370.3,1752.3 1371.6,1751.3 1372.9,1750.4 1374.2,1749.2 1375.5,1748.9 1376.8,1747.7 1378.1,1746.8 1379.4,1746.3 1380.7,1746.5 1382.0,1746.1 1383.3,1746.0 1384.6,1746.6 1385.9,1746.9 1387.2,1747.0 1388.5,1747.1 1389.8,1747.9 1391.1,1748.4 1392.4,1748.6 1393.7,1750.3 1395.0,1750.5 1396.3,1751.4 1397.6,1752.3 1398.9,1754.0 1400.2,1754.6 1401.5,1755.2 1402.8,1755.6 1404.1,1756.5 1405.4,1756.9 1406.7,1756.9 1408.0,1757.3 1409.3,1757.0 1410.6,1757.1 1411.9,1756.4 1413.2,1755.9 1414.5,1755.0 1415.8,1754.3 1417.1,1753.0 1418.4,1752.8 1419.7,1752.3 1421.0,1751.8 1422.3,1751.5 1423.6,1751.6 1424.9,1751.3 1426.2,1751.4 1427.5,1751.2 1428.8,1751.2 1430.1,1751.0 1431.4,1751.1 1432.7,1751.2 1434.0,1751.2 1435.3,1751.3 1436.6,1751.8 1437.9,1752.4 1439.2,1752.2 1440.5,1752.9 1441.8,1754.3 1443.1,1755.0 1444.4,1755.6 1445.7,1757.1 1447.0,1757.9 1448.3,1760.3 1449.6,1762.0 1450.9,1763.5 1452.2,1765.5 1453.5,1766.6 1454.8,1768.0 1456.1,1768.1 1457.4,1769.1 1458.7,1769.3 1460.0,1770.1 1461.3,1770.5 1462.6,1770.7 1463.9,1770.6 1465.2,1769.7 1466.5,1769.8 1467.8,1769.0 1469.1,1767.8 1470.4,1767.1 1471.7,1766.7 1473.0,1765.5 1474.3,1765.2 1475.6,1764.7 1476.9,1764.1 1478.2,1763.6 1479.5,1762.8 1480.8,1763.1 1482.1,1763.1 1483.4,1763.1 1484.7,1763.2 1486.0,1763.6 1487.3,1764.4 1488.6,1765.2 1489.9,1765.5 1491.2,1766.3 1492.5,1767.2 1493.8,1768.0 1495.1,1768.6 1496.4,1769.3 1497.7,1770.7 1499.0,1771.3 1500.3,1772.2 1501.6,1773.4 1502.9,1773.8 1504.2,1773.9 1505.5,1774.5 1506.8,1774.9 1508.1,1775.4 1509.4,1775.8 1510.7,1775.9 1512.0,1775.5 1513.3,1776.3 1514.6,1776.3 1515.9,1776.4 1517.2,1776.6 1518.5,1776.6 1519.8,1776.7 1521.1,1777.1 1522.4,1777.2 1523.7,1777.4 1525.0,1777.3 1526.3,1777.4 1527.6,1777.3 1528.9,1777.0 1530.2,1777.6 1531.5,1777.3 1532.8,1777.4 1534.1,1777.1 1535.4,1777.4 1536.7,1778.3 1538.0,1777.5 1539.3,1777.8 1540.6,1777.9 1541.9,1777.8 1543.2,1777.6 1544.5,1777.7 1545.8,1777.9 1547.1,1777.7 1548.4,1777.5 1549.7,1777.6 1551.0,1778.3 1552.3,1778.1 1553.6,1778.1 1554.9,1778.2 1556.2,1778.0 1557.5,1777.7 1558.8,1778.5 1560.1,1777.9 1561.4,1778.1 1562.7,1778.0 1564.0,1778.3 1565.3,1778.0 1566.6,1777.6 1567.9,1777.6 1569.2,1777.8 1570.5,1778.2 1571.8,1778.3 1573.1,1777.9 1574.4,1777.9 1575.7,1778.2 1577.0,1778.0 1578.3,1777.8 1579.6,1777.7 1580.9,1778.0 1582.2,1778.2 1583.5,1778.2 1584.8,1778.1 1586.1,1777.7 1587.4,1778.1 1588.7,1777.3 1590.0,1777.8 1591.3,1777.9 1592.6,1777.5 1593.9,1777.3 1595.2,1778.0 1596.5,1777.5 1597.8,1777.5 1599.0,1777.5"/>
<polyline class="c" stroke="#00ff00" points="166.5,1501.6 167.8,1501.6 169.1,1501.1 170.4,1501.3 171.7,1501.8 173.0,1501.2 174.3,1501.6 175.6,1501.3 176.9,1501.6 178.2,1500.0 179.5,1500.0 180.8,1499.7 182.1,1500.7 183.4,1500.1 184.7,1500.7 186.0,1500.3 187.3,1500.1 188.6,1501.2 189.9,1500.2 191.2,1499.7 192.5,1499.1 193.8,1500.3 195.1,1500.0 196.4,1498.7 197.7,1499.1 199.0,1499.3 200.3,1498.0 201.6,1498.7 202.9,1499.6 204.2,1497.7 205.5,1498.8 206.8,1499.5 208.1,1497.9 209.4,1497.8 210.7,1498.1 212.0,1498.1 213.3,1497.9 214.6,1496.6 215.9,1496.9 217.2,1497.3 218.5,1496.9 219.8,1497.6 221.1,1496.6 222.4,1496.5 223.7,1497.6 225.0,1496.4 226.3,1495.7 227.6,1496.1 228.9,1495.9 230.2,1496.3 231.5,1496.0 232.8,1495.4 234.1,1495.2 235.4,1495.0 236.7,1496.0 238.0,1496.3 239.3,1494.9 240.6,1495.2 241.9,1494.9 243.2,1494.2 244.5,1494.1 245.8,1494.0 247.1,1493.0 248.4,1493.6 249.7,1494.2 251.0,1494.3 252.3,1493.5 253.6,1493.3 254.9,1493.8 256.2,1494.5 257.5,1492.6 258.8,1492.5 260.1,1492.6 261.4,1493.1 262.7,1492.1 264.0,1492.8 265.3,1492.0 266.6,1492.7 267.9,1492.0 269.2,1491.8 270.5,1492.5 271.8,1491.2 273.1,1491.3 274.4,1492.1 275.7,1492.1 277.0,1491.6 278.3,1490.1 279.6,1491.7 280.9,1491.4 282.2,1490.9 283.5,1489.8 284.8,1491.4 286.1,1491.9 287.4,1491.0 288.7,1491.4 290.0,1490.1 291.3,1490.5 292.6,1489.9 293.9,1489.5 295.2,1489.8 296.5,1489.4 297.8,1489.4 299.1,1489.2 300.4,1489.3 301.7,1489.2 303.0,1489.3 304.3,1488.4 305.6,1489.2 306.9,1487.7 308.2,1488.7 309.5,1488.5 310.8,1486.9 312.1,1488.0 313.4,1488.7 314.7,1488.1 316.0,1487.4 317.3,1487.2 318.6,1487.5 319.9,1487.3 321.2,1487.5 322.5,1486.9 323.8,1487.2 325.1,1486.8 326.4,1485.9 327.7,1485.6 329.0,1485.7 330.3,1486.2 331.6,1485.2 332.9,1486.2 334.2,1484.6 335.5,1485.2 336.8,1484.6 338.1,1485.2 339.4,1485.0 340.7,1484.7 342.0,1483.9 343.3,1483.9 344.6,1483.9 345.9,1484.8 347.2,1483.6 348.5,1484.2 349.8,1484.3 351.1,1483.1 352.4,1483.2 353.7,1482.0 355.0,1483.0 356.3,1483.5 357.6,1482.4 358.9,1483.1 360.2,1483.2 361.5,1482.8 362.8,1482.2 364.1,1482.5 365.4,1481.9 366.7,1481.9 368.0,1483.5 369.3,1481.7 370.6,1481.5 371.9,1481.9 373.2,1481.9 374.5,1482.1 375.8,1481.1 377.1,1480.9 378.4,1480.8 379.7,1481.8 381.0,1481.9 382.3,1480.7 383.6,1480.8 384.9,1481.0 386.2,1480.4 387.5,1480.6 388.8,1481.4 390.1,1480.0 391.4,1480.9 392.7,1481.3 394.0,1479.9 395.3,1481.1 396.6,1480.4 397.9,1480.0 399.2,1480.8 400.5,1480.3 401.8,1480.0 403.1,1479.8 404.4,1479.5 405.7,1479.6 407.0,1479.8 408.3,1480.3 409.6,1479.6 410.9,1479.9 412.2,1479.4 413.5,1479.9 414.8,1479.5 416.1,1480.3 417.4,1479.6 418.7,1478.4 420.0,1479.3 421.3,1479.0 422.6,1479.8 423.9,1479.2 425.2,1479.7 426.5,1479.5 427.8,1478.6 429.1,1478.8 430.4,1479.0 431.7,1478.3 433.0,1480.9 434.3,1479.1 435.6,1478.0 436.9,1477.9 438.2,1478.8 439.5,1478.5 440.8,1477.7 442.1,1477.6 443.4,1478.6 444.7,1478.3 446.0,1478.8 447.3,1478.5 448.6,1479.2 449.9,1477.4 451.2,1478.8 452.5,1477.9 453.8,1477.8 455.1,1479.0 456.4,1477.2 457.7,1478.3 459.0,1478.1 460.3,1479.0 461.6,1477.4 462.9,1478.4 464.2,1478.5 465.5,1478.2 466.8,1478.2 468.1,1478.0 469.4,1477.2 470.7,1477.8 472.0,1476.9 473.3,1478.6 474.6,1478.6 475.9,1477.1 477.2,1478.7 478.5,1477.8 479.8,1477.0 481.1,1477.4 482.4,1478.2 483.7,1477.8 485.0,1477.2 486.3,1478.2 487.6,1477.6 488.9,1477.4 490.2,1477.0 491.5,1478.0 492.8,1478.2 494.1,1477.0 495.4,1477.4 496.7,1477.4 498.0,1477.6 499.3,1476.9 500.6,1478.7 501.9,1477.6 503.2,1478.0 504.5,1477.2 505.8,1478.6 507.1,1477.6 508.4,1476.2 509.7,1477.9 511.0,1477.2 512.3,1476.6 513.6,1477.1 514.9,1476.6 516.2,1477.5 517.5,1477.4 518.8,1476.2 520.1,1477.4 521.4,1477.6 522.7,1475.4 524.0,1477.6 525.3,1477.2 526.6,1477.3 527.9,1477.6 529.2,1476.7 530.5,1476.1 531.8,1476.8 533.1,1476.5 534.4,1476.8 535.7,1475.1 537.0,1476.2 538.3,1478.0 539.6,1476.6 540.9,1476.9 542.2,1476.5 543.5,1476.0 544.8,1476.7 546.1,1476.6 547.4,1475.9 548.7,1476.0 550.0,1476.5 551.3,1475.5 552.6,1475.5 553.9,1476.6 555.2,1476.6 556.5,1475.7 557.8,1476.8 559.1,1476.3 560.4,1476.0 561.7,1475.4 563.0,1476.1 564.3,1475.3 565.6,1475.5 566.9,1475.2 568.2,1476.2 569.5,1475.5 570.8,1475.4 572.1,1475.8 573.4,1476.8 574.7,1475.9 576.0,1474.3 577.3,1475.2 578.6,1475.2 579.9,1474.8 581.2,1474.5 582.5,1476.1 583.8,1475.5 585.1,1475.5 586.4,1475.1 587.7,1475.4 589.0,1475.1 590.3,1474.9 591.6,1474.6 592.9,1474.1 594.2,1474.2 595.5,1474.6 596.8,1474.0 598.1,1474.6 599.4,1473.8 600.7,1474.7 602.0,1473.3 603.3,1474.3 604.6,1474.7 605.9,1474.2 607.2,1472.9 608.5,1473.5 609.8,1472.0 611.1,1471.6 612.4,1470.7 613.7,1469.2 615.0,1470.3 616.3,1470.1 617.6,1470.3 618.9,1469.4 620.2,1470.6 621.5,1470.0 622.8,1469.9 624.1,1470.3 625.4,1471.2 626.7,1471.1 628.0,1472.4 629.3,1472.1 630.6,1472.3 631.9,1471.2 633.2,1470.3 634.5,1469.4 635.8,1469.5 637.1,1469.7 638.4,1469.1 639.7,1466.8 641.0,1467.6 642.3,1467.6 643.6,1467.3 644.9,1467.8 646.2,1468.0 647.5,1468.6 648.8,1469.1 650.1,1469.5 651.4,1470.0 652.7,1470.3 654.0,1470.7 655.3,1470.1 656.6,1471.0 657.9,1471.1 659.2,1470.5 660.5,1470.8 661.8,1470.9 663.1,1470.5 664.4,1470.4 665.7,1470.5 667.0,1470.6 668.3,1470.0 669.6,1470.3 670.9,1470.2 672.2,1469.6 673.5,1469.9 674.8,1470.1 676.1,1469.6 677.4,1469.4 678.7,1469.6 680.0,1468.8 681.3,1468.7 682.6,1468.8 683.9,1468.6 685.2,1467.6 686.5,1467.5 687.8,1467.4 689.1,1467.3 690.4,1466.8 691.7,1466.2 693.0,1466.1 694.3,1465.0 695.6,1465.1 696.9,1464.8 698.2,1464.3 699.5,1463.3 700.8,1461.6 702.1,1460.7 703.4,1458.8 704.7,1457.4 706.0,1456.9 707.3,1455.8 708.6,1457.1 709.9,1457.4 711.2,1458.2 712.5,1458.8 713.8,1459.8 715.1,1460.5 716.4,1461.1 717.7,1461.4 719.0,1462.6 720.3,1463.1 721.6,1463.7 722.9,1463.5 724.2,1462.6 725.5,1460.8 726.8,1458.1 728.1,1455.5 729.4,1453.7 730.7,1451.6 732.0,1449.8 733.3,1447.3 734.6,1446.2 735.9,1446.4 737.2,1447.4 738.5,1449.0 739.8,1451.5 741.1,1453.3 742.4,1454.4 743.7,1455.9 745.0,1457.5 746.3,1458.7 747.6,1459.6 748.9,1460.0 750.2,1459.5 751.5,1460.3 752.8,1460.2 754.1,1460.0 755.4,1459.5 756.7,1459.8 758.0,1459.8 759.3,1459.6 760.6,1459.5 761.9,1458.9 763.2,1459.4 764.5,1459.3 765.8,1459.1 767.1,1459.1 768.4,1458.6 769.7,1458.6 771.0,1457.7 772.3,1457.9 773.6,1457.4 774.9,1457.5 776.2,1456.7 777.5,1456.4 778.8,1456.1 780.1,1456.1 781.4,1455.4 782.7,1455.5 784.0,1455.2 785.3,1454.8 786.6,1454.5 787.9,1454.1 789.2,1454.4 790.5,1453.9 791.8,1453.2 793.1,1453.5 794.4,1452.7 795.7,1452.8 797.0,1452.7 798.3,1452.2 799.6,1451.9 800.9,1451.9 802.2,1451.7 803.5,1451.3 804.8,1451.1 806.1,1450.4 807.4,1450.5 808.7,1450.0 810.0,1450.0 811.3,1449.5 812.6,1449.3 813.9,1449.0 815.2,1448.8 816.5,1448.6 817.8,1448.3 819.1,1448.2 820.4,1447.5 821.7,1447.9 823.0,1447.1 824.3,1446.7 825.6,1446.6 826.9,1446.1 828.2,1445.8 829.5,1445.7 830.8,1445.0 832.1,1445.3 833.4,1444.4 834.7,1444.3 836.0,1444.4 837.3,1444.1 838.6,1443.6 839.9,1442.9 841.2,1442.9 842.5,1442.5 843.8,1442.3 845.1,1442.1 846.4,1442.0 847.7,1441.8 849.0,1441.4 850.3,1440.8 851.6,1440.8 852.9,1440.6 854.2,1440.4 855.5,1439.8 856.8,1439.5 858.1,1439.2 859.4,1438.8 860.7,1438.9 862.0,1438.3 863.3,1438.4 864.6,1438.0 865.9,1437.5 867.2,1437.2 868.5,1436.7 869.8,1436.5 871.1,1436.1 872.4,1435.9 873.7,1435.1 875.0,1435.1 876.3,1434.6 877.6,1434.1 878.9,1433.4 880.2,1433.0 881.5,1432.9 882.8,1432.5 884.1,1431.8 885.4,1432.2 886.7,1431.5 888.0,1431.1 889.3,1431.0 890.6,1430.4 891.9,1429.8 893.2,1430.0 894.5,1429.6 895.8,1429.6 897.1,1429.4 898.4,1428.7 899.7,1428.7 901.0,1428.9 902.3,1428.9 903.6,1428.3 904.9,1428.1 906.2,1428.0 907.5,1427.7 908.8,1428.1 910.1,1427.6 911.4,1426.8 912.7,1426.6 914.0,1426.7 915.3,1426.3 916.6,1426.1 917.9,1425.8 919.2,1425.1 920.5,1424.7 921.8,1424.4 923.1,1424.2 924.4,1424.1 925.7,1423.5 927.0,1423.6 928.3,1422.1 929.6,1421.6 930.9,1420.9 932.2,1419.8 933.5,1417.7 934.8,1416.4 936.1,1414.8 937.4,1411.7 938.7,1409.7 940.0,1407.3 941.3,1405.9 942.6,1405.3 943.9,1404.3 945.2,1403.8 946.5,1404.9 947.8,1405.7 949.1,1407.7 950.4,1408.2 951.7,1410.0 953.0,1410.7 954.3,1411.5 955.6,1411.7 956.9,1411.0 958.2,1408.4 959.5,1405.7 960.8,1401.4 962.1,1394.2 963.4,1384.0 964.7,1368.3 966.0,1345.9 967.3,1321.8 968.6,1295.3 969.9,1263.4 971.2,1229.4 972.5,1194.4 973.8,1172.7 975.1,1161.9 976.4,1163.9 977.7,1180.4 979.0,1203.6 980.3,1239.2 981.6,1270.4 982.9,1297.6 984.2,1321.8 985.5,1345.0 986.8,1362.1 988.1,1374.3 989.4,1384.2 990.7,1391.5 992.0,1396.5 993.3,1400.3 994.6,1403.7 995.9,1405.4 997.2,1406.9 998.5,1408.0 999.8,1408.3 1001.1,1409.2 1002.4,1409.7 1003.7,1410.4 1005.0,1410.0 1006.3,1410.6 1007.6,1410.2 1008.9,1410.9 1010.2,1410.5 1011.5,1410.9 1012.8,1411.4 1014.1,1411.0 1015.4,1411.2 1016.7,1410.6 1018.0,1411.1 1019.3,1411.2 1020.6,1411.0 1021.9,1411.2 1023.2,1410.9 1024.5,1411.1 1025.8,1411.0 1027.1,1410.9 1028.4,1411.5 1029.7,1411.2 1031.0,1411.5 1032.3,1411.9 1033.6,1411.8 1034.9,1411.4 1036.2,1411.5 1037.5,1411.5 1038.8,1411.7 1040.1,1412.2 1041.4,1412.2 1042.7,1411.8 1044.0,1411.6 1045.3,1412.3 1046.6,1411.6 1047.9,1412.5 1049.2,1411.9 1050.5,1412.7 1051.8,1412.8 1053.1,1412.8 1054.4,1412.7 1055.7,1413.3 1057.0,1413.4 1058.3,1413.5 1059.6,1414.2 1060.9,1413.7 1062.2,1413.8 1063.5,1414.4 1064.8,1414.9 1066.1,1414.1 1067.4,1414.3 1068.7,1414.4 1070.0,1414.7 1071.3,1414.9 1072.6,1414.6 1073.9,1414.9 1075.2,1414.8 1076.5,1415.1 1077.8,1415.1 1079.1,1415.3 1080.4,1415.1 1081.7,1415.1 1083.0,1414.0 1084.3,1413.4 1085.6,1412.5 1086.9,1412.0 1088.2,1411.4 1089.5,1411.3 1090.8,1411.4 1092.1,1411.2 1093.4,1411.2 1094.7,1412.2 1096.0,1413.4 1097.3,1415.0 1098.6,1416.1 1099.9,1416.9 1101.2,1417.5 1102.5,1417.1 1103.8,1417.7 1105.1,1417.7 1106.4,1417.7 1107.7,1417.2 1109.0,1417.5 1110.3,1417.7 1111.6,1417.6 1112.9,1417.6 1114.2,1417.5 1115.5,1417.7 1116.8,1417.5 1118.1,1417.3 1119.4,1418.3 1120.7,1419.3 1122.0,1419.6 1123.3,1420.2 1124.6,1421.1 1125.9,1420.7 1127.2,1420.9 1128.5,1421.3 1129.8,1421.7 1131.1,1422.2 1132.4,1422.1 1133.7,1421.7 1135.0,1421.4 1136.3,1419.8 1137.6,1418.3 1138.9,1416.4 1140.2,1413.3 1141.5,1410.2 1142.8,1407.6 1144.1,1406.2 1145.4,1405.8 1146.7,1405.9 1148.0,1405.7 1149.3,1406.7 1150.6,1408.9 1151.9,1411.3 1153.2,1412.5 1154.5,1415.4 1155.8,1416.9 1157.1,1417.7 1158.4,1419.0 1159.7,1420.0 1161.0,1420.1 1162.3,1420.2 1163.6,1420.9 1164.9,1421.4 1166.2,1420.9 1167.5,1421.4 1168.8,1420.9 1170.1,1419.5 1171.4,1417.0 1172.7,1414.7 1174.0,1413.3 1175.3,1411.4 1176.6,1409.3 1177.9,1407.5 1179.2,1406.9 1180.5,1406.4 1181.8,1407.1 1183.1,1406.4 1184.4,1406.8 1185.7,1406.8 1187.0,1406.6 1188.3,1404.6 1189.6,1401.5 1190.9,1397.0 1192.2,1390.3 1193.5,1381.7 1194.8,1370.8 1196.1,1354.5 1197.4,1338.7 1198.7,1320.6 1200.0,1309.9 1201.3,1302.3 1202.6,1298.8 1203.9,1297.7 1205.2,1297.4 1206.5,1298.0 1207.8,1298.0 1209.1,1298.4 1210.4,1297.4 1211.7,1292.6 1213.0,1285.9 1214.3,1278.0 1215.6,1268.9 1216.9,1266.8 1218.2,1266.0 1219.5,1266.2 1220.8,1268.7 1222.1,1272.1 1223.4,1275.6 1224.7,1279.2 1226.0,1281.1 1227.3,1282.3 1228.6,1282.1 1229.9,1280.7 1231.2,1278.8 1232.5,1277.5 1233.8,1276.4 1235.1,1276.7 1236.4,1279.7 1237.7,1285.1 1239.0,1293.4 1240.3,1306.2 1241.6,1320.3 1242.9,1336.4 1244.2,1353.7 1245.5,1368.8 1246.8,1381.6 1248.1,1393.7 1249.4,1403.7 1250.7,1412.8 1252.0,1420.5 1253.3,1426.3 1254.6,1430.5 1255.9,1433.3 1257.2,1435.5 1258.5,1437.2 1259.8,1438.4 1261.1,1439.2 1262.4,1439.9 1263.7,1440.6 1265.0,1441.2 1266.3,1441.6 1267.6,1442.1 1268.9,1442.1 1270.2,1442.8 1271.5,1442.6 1272.8,1442.9 1274.1,1443.4 1275.4,1443.1 1276.7,1443.7 1278.0,1443.4 1279.3,1444.0 1280.6,1444.6 1281.9,1445.0 1283.2,1445.0 1284.5,1445.4 1285.8,1446.6 1287.1,1446.8 1288.4,1447.5 1289.7,1447.3 1291.0,1448.5 1292.3,1448.7 1293.6,1448.7 1294.9,1449.4 1296.2,1450.0 1297.5,1450.1 1298.8,1450.0 1300.1,1450.2 1301.4,1451.2 1302.7,1451.1 1304.0,1451.3 1305.3,1451.6 1306.6,1451.8 1307.9,1451.8 1309.2,1452.4 1310.5,1452.7 1311.8,1452.4 1313.1,1453.2 1314.4,1452.9 1315.7,1453.3 1317.0,1453.5 1318.3,1453.6 1319.6,1453.8 1320.9,1453.1 1322.2,1453.1 1323.5,1453.3 1324.8,1453.5 1326.1,1453.8 1327.4,1453.3 1328.7,1453.1 1330.0,1452.9 1331.3,1452.6 1332.6,1453.1 1333.9,1452.1 1335.2,1452.8 1336.5,1453.1 1337.8,1452.8 1339.1,1453.2 1340.4,1453.6 1341.7,1453.8 1343.0,1454.2 1344.3,1454.3 1345.6,1455.0 1346.9,1455.5 1348.2,1455.3 1349.5,1456.0 1350.8,1455.9 1352.1,1456.0 1353.4,1456.3 1354.7,1456.2 1356.0,1456.6 1357.3,1456.3 1358.6,1456.1 1359.9,1455.7 1361.2,1454.9 1362.5,1454.7 1363.8,1454.5 1365.1,1454.6 1366.4,1453.5 1367.7,1453.5 1369.0,1452.1 1370.3,1451.7 1371.6,1451.0 1372.9,1450.6 1374.2,1449.6 1375.5,1448.3 1376.8,1446.9 1378.1,1444.7 1379.4,1442.8 1380.7,1441.8 1382.0,1440.8 1383.3,1439.3 1384.6,1438.1 1385.9,1437.4 1387.2,1436.1 1388.5,1436.0 1389.8,1435.7 1391.1,1436.4 1392.4,1437.0 1393.7,1438.5 1395.0,1439.3 1396.3,1440.8 1397.6,1442.1 1398.9,1444.1 1400.2,1445.7 1401.5,1447.3 1402.8,1448.3 1404.1,1450.6 1405.4,1451.1 1406.7,1452.2 1408.0,1453.9 1409.3,1454.6 1410.6,1455.0 1411.9,1455.7 1413.2,1455.5 1414.5,1455.4 1415.8,1455.1 1417.1,1453.7 1418.4,1452.4 1419.7,1450.7 1421.0,1449.4 1422.3,1447.3 1423.6,1445.1 1424.9,1443.5 1426.2,1441.4 1427.5,1440.5 1428.8,1439.9 1430.1,1438.8 1431.4,1438.6 1432.7,1438.0 1434.0,1439.2 1435.3,1440.8 1436.6,1442.3 1437.9,1444.5 1439.2,1446.3 1440.5,1448.3 1441.8,1449.8 1443.1,1450.4 1444.4,1451.1 1445.7,1451.9 1447.0,1453.0 1448.3,1453.6 1449.6,1453.9 1450.9,1455.2 1452.2,1455.9 1453.5,1456.2 1454.8,1456.9 1456.1,1457.5 1457.4,1457.9 1458.7,1458.9 1460.0,1459.7 1461.3,1460.3 1462.6,1460.6 1463.9,1461.1 1465.2,1461.7 1466.5,1462.0 1467.8,1462.2 1469.1,1461.8 1470.4,1462.0 1471.7,1461.6 1473.0,1461.1 1474.3,1460.2 1475.6,1460.1 1476.9,1459.3 1478.2,1458.9 1479.5,1457.6 1480.8,1457.0 1482.1,1455.9 1483.4,1454.8 1484.7,1454.1 1486.0,1453.4 1487.3,1453.5 1488.6,1453.9 1489.9,1454.6 1491.2,1455.7 1492.5,1456.9 1493.8,1457.6 1495.1,1459.1 1496.4,1459.2 1497.7,1460.3 1499.0,1461.8 1500.3,1462.2 1501.6,1462.7 1502.9,1464.0 1504.2,1463.6 1505.5,1464.0 1506.8,1464.0 1508.1,1464.5 1509.4,1464.3 1510.7,1464.1 1512.0,1464.4 1513.3,1464.7 1514.6,1465.1 1515.9,1465.1 1517.2,1465.2 1518.5,1465.2 1519.8,1465.0 1521.1,1465.7 1522.4,1465.2 1523.7,1465.5 1525.0,1465.3 1526.3,1465.4 1527.6,1465.5 1528.9,1465.4 1530.2,1465.9 1531.5,1465.7 1532.8,1466.0 1534.1,1466.1 1535.4,1466.0 1536.7,1466.0 1538.0,1466.1 1539.3,1465.9 1540.6,1466.2 1541.9,1465.6 1543.2,1465.9 1544.5,1466.4 1545.8,1465.8 1547.1,1466.3 1548.4,1466.5 1549.7,1466.3 1551.0,1466.2 1552.3,1466.7 1553.6,1467.0 1554.9,1466.9 1556.2,1466.2 1557.5,1467.1 1558.8,1466.5 1560.1,1467.1 1561.4,1466.8 1562.7,1467.0 1564.0,1467.2 1565.3,1466.7 1566.6,1467.3 1567.9,1467.0 1569.2,1467.2 1570.5,1467.1 1571.8,1467.1 1573.1,1466.8 1574.4,1467.1 1575.7,1467.4 1577.0,1467.0 1578.3,1467.5 1579.6,1467.4 1580.9,1466.8 1582.2,1467.2 1583.5,1467.3 1584.8,1467.1 1586.1,1467.2 1587.4,1467.3 1588.7,1467.0 1590.0,1467.1 1591.3,1466.9 1592.6,1466.7 1593.9,1467.0 1595.2,1466.7 1596.5,1466.7 1597.8,1466.9 1599.0,1466.9"/>
<polyline class="c" stroke="#0000ff" points="166.5,1253.8 167.8,1253.8 169.1,1253.8 170.4,1253.5 171.7,1252.4 173.0,1253.3 174.3,1252.4 175.6,1253.1 176.9,1252.6 178.2,1253.2 179.5,1252.4 180.8,1252.4 182.1,1251.7 183.4,1252.4 184.7,1251.8 186.0,1252.0 187.3,1251.9 188.6,1251.7 189.9,1251.0 191.2,1250.0 192.5,1250.2 193.8,1251.0 195.1,1250.9 196.4,1250.8 197.7,1249.7 199.0,1249.3 200.3,1250.0 201.6,1249.7 202.9,1249.1 204.2,1248.8 205.5,1247.9 206.8,1248.2 208.1,1248.7 209.4,1247.3 210.7,1247.2 212.0,1247.1 213.3,1246.8 214.6,1245.7 215.9,1246.1 217.2,1245.8 218.5,1245.6 219.8,1245.3 221.1,1245.2 222.4,1244.5 223.7,1245.5 225.0,1244.2 226.3,1244.9 227.6,1244.6 228.9,1243.7 230.2,1242.8 231.5,1242.0 232.8,1242.1 234.1,1242.4 235.4,1242.4 236.7,1241.6 238.0,1241.5 239.3,1242.9 240.6,1241.4 241.9,1240.4 243.2,1241.0 244.5,1240.0 245.8,1239.0 247.1,1240.0 248.4,1239.3 249.7,1239.4 251.0,1240.0 252.3,1238.9 253.6,1238.2 254.9,1239.2 256.2,1237.0 257.5,1237.3 258.8,1238.3 260.1,1238.1 261.4,1236.9 262.7,1236.4 264.0,1236.7 265.3,1236.4 266.6,1236.1 267.9,1235.5 269.2,1234.8 270.5,1234.9 271.8,1234.8 273.1,1234.5 274.4,1234.1 275.7,1234.1 277.0,1233.0 278.3,1234.1 279.6,1234.1 280.9,1232.9 282.2,1232.2 283.5,1232.8 284.8,1232.7 286.1,1232.1 287.4,1232.4 288.7,1231.4 290.0,1230.8 291.3,1231.9 292.6,1230.6 293.9,1230.4 295.2,1229.2 296.5,1229.9 297.8,1229.5 299.1,1229.5 300.4,1229.6 301.7,1229.1 303.0,1228.1 304.3,1228.9 305.6,1228.3 306.9,1228.1 308.2,1227.5 309.5,1227.3 310.8,1226.2 312.1,1225.8 313.4,1226.0 314.7,1225.7 316.0,1225.8 317.3,1223.7 318.6,1224.8 319.9,1224.4 321.2,1225.1 322.5,1223.9 323.8,1223.7 325.1,1223.7 326.4,1223.6 327.7,1222.1 329.0,1222.2 330.3,1222.8 331.6,1222.4 332.9,1222.0 334.2,1222.5 335.5,1220.7 336.8,1221.3 338.1,1220.7 339.4,1220.9 340.7,1220.1 342.0,1220.3 343.3,1221.3 344.6,1220.0 345.9,1219.6 347.2,1220.0 348.5,1219.3 349.8,1219.9 351.1,1218.1 352.4,1217.8 353.7,1217.0 355.0,1217.4 356.3,1216.7 357.6,1218.2 358.9,1217.3 360.2,1217.2 361.5,1216.9 362.8,1216.6 364.1,1216.2 365.4,1215.4 366.7,1216.7 368.0,1215.6 369.3,1216.5 370.6,1215.8 371.9,1214.6 373.2,1214.9 374.5,1214.7 375.8,1214.4 377.1,1214.2 378.4,1214.3 379.7,1213.9 381.0,1213.7 382.3,1213.9 383.6,1213.7 384.9,1213.3 386.2,1213.6 387.5,1213.0 388.8,1213.3 390.1,1213.0 391.4,1213.4 392.7,1211.8 394.0,1213.4 395.3,1212.2 396.6,1212.9 397.9,1211.8 399.2,1211.9 400.5,1212.1 401.8,1211.5 403.1,1211.3 404.4,1211.4 405.7,1212.1 407.0,1210.3 408.3,1211.1 409.6,1211.7 410.9,1210.7 412.2,1211.5 413.5,1209.5 414.8,1209.8 416.1,1210.2 417.4,1209.9 418.7,1209.8 420.0,1210.4 421.3,1209.4 422.6,1210.0 423.9,1209.9 425.2,1209.6 426.5,1210.7 427.8,1209.3 429.1,1210.5 430.4,1209.0 431.7,1209.5 433.0,1209.3 434.3,1208.7 435.6,1209.4 436.9,1209.6 438.2,1209.2 439.5,1208.8 440.8,1209.4 442.1,1209.0 443.4,1208.8 444.7,1207.0 446.0,1208.3 447.3,1208.8 448.6,1207.7 449.9,1206.7 451.2,1207.7 452.5,1208.0 453.8,1207.1 455.1,1207.7 456.4,1208.0 457.7,1207.3 459.0,1207.4 460.3,1208.4 461.6,1207.6 462.9,1207.0 464.2,1207.8 465.5,1207.8 466.8,1207.5 468.1,1207.3 469.4,1206.9 470.7,1208.7 472.0,1206.7 473.3,1207.2 474.6,1207.4 475.9,1207.6 477.2,1206.8 478.5,1207.1 479.8,1206.6 481.1,1207.0 482.4,1205.8 483.7,1207.3 485.0,1206.8 486.3,1206.9 487.6,1206.4 488.9,1205.4 490.2,1205.8 491.5,1206.1 492.8,1206.9 494.1,1206.1 495.4,1206.6 496.7,1206.1 498.0,1205.6 499.3,1205.7 500.6,1206.1 501.9,1206.1 503.2,1205.3 504.5,1205.7 505.8,1205.6 507.1,1205.9 508.4,1206.1 509.7,1204.7 511.0,1204.9 512.3,1204.3 513.6,1206.1 514.9,1205.2 516.2,1204.3 517.5,1206.1 518.8,1204.8 520.1,1204.9 521.4,1205.0 522.7,1205.1 524.0,1203.7 525.3,1204.5 526.6,1205.0 527.9,1204.7 529.2,1204.4 530.5,1204.1 531.8,1203.5 533.1,1202.7 534.4,1203.3 535.7,1204.3 537.0,1204.2 538.3,1203.7 539.6,1204.0 540.9,1204.8 542.2,1203.8 543.5,1203.6 544.8,1205.2 546.1,1203.8 547.4,1203.3 548.7,1204.3 550.0,1203.2 551.3,1203.5 552.6,1203.6 553.9,1204.2 555.2,1203.0 556.5,1203.7 557.8,1202.5 559.1,1203.1 560.4,1203.2 561.7,1203.2 563.0,1204.1 564.3,1202.9 565.6,1202.8 566.9,1202.6 568.2,1202.6 569.5,1202.9 570.8,1202.7 572.1,1203.1 573.4,1202.1 574.7,1202.6 576.0,1202.4 577.3,1202.1 578.6,1202.1 579.9,1201.9 581.2,1201.6 582.5,1201.4 583.8,1200.6 585.1,1200.6 586.4,1200.9 587.7,1201.1 589.0,1200.9 590.3,1200.3 591.6,1199.8 592.9,1200.2 594.2,1199.8 595.5,1199.1 596.8,1199.8 598.1,1199.8 599.4,1199.0 600.7,1198.0 602.0,1198.5 603.3,1198.2 604.6,1197.1 605.9,1197.6 607.2,1197.0 608.5,1197.0 609.8,1195.9 611.1,1195.8 612.4,1195.6 613.7,1195.9 615.0,1194.9 616.3,1195.4 617.6,1196.3 618.9,1195.3 620.2,1194.8 621.5,1196.0 622.8,1195.8 624.1,1194.5 625.4,1195.4 626.7,1194.6 628.0,1195.3 629.3,1195.7 630.6,1195.4 631.9,1194.0 633.2,1193.6 634.5,1194.2 635.8,1193.0 637.1,1192.1 638.4,1191.7 639.7,1190.7 641.0,1190.4 642.3,1190.4 643.6,1191.0 644.9,1190.8 646.2,1191.5 647.5,1191.8 648.8,1191.9 650.1,1191.9 651.4,1192.3 652.7,1192.4 654.0,1192.9 655.3,1193.3 656.6,1193.0 657.9,1193.5 659.2,1193.0 660.5,1192.6 661.8,1192.2 663.1,1192.2 664.4,1191.9 665.7,1192.3 667.0,1191.9 668.3,1192.3 669.6,1191.7 670.9,1191.5 672.2,1190.7 673.5,1190.6 674.8,1190.7 676.1,1190.3 677.4,1189.8 678.7,1189.7 680.0,1189.7 681.3,1189.6 682.6,1189.2 683.9,1188.6 685.2,1188.3 686.5,1188.2 687.8,1187.5 689.1,1186.5 690.4,1186.0 691.7,1185.8 693.0,1185.3 694.3,1184.4 695.6,1183.1 696.9,1181.9 698.2,1181.6 699.5,1179.5 700.8,1177.8 702.1,1176.7 703.4,1176.0 704.7,1175.5 706.0,1175.6 707.3,1176.3 708.6,1176.1 709.9,1176.6 711.2,1177.3 712.5,1177.8 713.8,1178.2 715.1,1178.8 716.4,1178.8 717.7,1179.3 719.0,1179.1 720.3,1179.3 721.6,1177.9 722.9,1177.0 724.2,1176.1 725.5,1174.3 726.8,1173.3 728.1,1171.9 729.4,1171.2 730.7,1170.5 732.0,1169.7 733.3,1169.2 734.6,1168.0 735.9,1168.4 737.2,1168.4 738.5,1168.6 739.8,1169.2 741.1,1170.3 742.4,1171.1 743.7,1172.7 745.0,1173.0 746.3,1173.0 747.6,1172.8 748.9,1173.0 750.2,1172.3 751.5,1172.2 752.8,1172.6 754.1,1171.6 755.4,1171.8 756.7,1171.4 758.0,1171.4 759.3,1171.2 760.6,1170.6 761.9,1170.6 763.2,1169.8 764.5,1169.7 765.8,1168.9 767.1,1168.8 768.4,1168.3 769.7,1167.3 771.0,1165.9 772.3,1165.9 773.6,1165.6 774.9,1164.8 776.2,1164.6 777.5,1164.7 778.8,1163.8 780.1,1163.6 781.4,1163.6 782.7,1162.5 784.0,1162.2 785.3,1162.2 786.6,1161.4 787.9,1161.5 789.2,1161.3 790.5,1160.9 791.8,1160.2 793.1,1159.8 794.4,1159.6 795.7,1159.1 797.0,1158.8 798.3,1158.8 799.6,1157.4 800.9,1157.8 802.2,1156.8 803.5,1156.8 804.8,1156.0 806.1,1155.5 807.4,1155.0 808.7,1154.9 810.0,1154.2 811.3,1153.9 812.6,1152.6 813.9,1152.3 815.2,1151.7 816.5,1151.2 817.8,1151.1 819.1,1150.5 820.4,1149.5 821.7,1148.5 823.0,1148.4 824.3,1147.6 825.6,1147.2 826.9,1147.0 828.2,1146.5 829.5,1146.4 830.8,1144.9 832.1,1144.2 833.4,1143.5 834.7,1144.0 836.0,1142.5 837.3,1142.4 838.6,1142.2 839.9,1140.9 841.2,1140.8 842.5,1139.7 843.8,1139.7 845.1,1138.4 846.4,1138.1 847.7,1137.5 849.0,1137.0 850.3,1136.7 851.6,1136.2 852.9,1135.6 854.2,1135.0 855.5,1133.4 856.8,1133.3 858.1,1133.1 859.4,1132.4 860.7,1131.6 862.0,1130.6 863.3,1130.3 864.6,1129.3 865.9,1128.4 867.2,1128.3 868.5,1127.3 869.8,1126.6 871.1,1126.2 872.4,1125.6 873.7,1124.6 875.0,1123.7 876.3,1123.3 877.6,1122.6 878.9,1122.2 880.2,1121.8 881.5,1120.9 882.8,1120.3 884.1,1119.4 885.4,1119.3 886.7,1118.5 888.0,1118.2 889.3,1117.7 890.6,1117.0 891.9,1116.1 893.2,1115.8 894.5,1115.6 895.8,1114.1 897.1,1114.1 898.4,1113.5 899.7,1112.9 901.0,1112.3 902.3,1111.4 903.6,1111.0 904.9,1111.0 906.2,1109.9 907.5,1109.6 908.8,1109.0 910.1,1109.1 911.4,1108.8 912.7,1107.7 914.0,1107.4 915.3,1106.3 916.6,1107.0 917.9,1106.6 919.2,1105.9 920.5,1104.8 921.8,1104.7 923.1,1104.6 924.4,1103.0 925.7,1102.4 927.0,1102.1 928.3,1100.5 929.6,1099.8 930.9,1098.0 932.2,1096.9 933.5,1095.2 934.8,1094.3 936.1,1093.5 937.4,1092.2 938.7,1091.2 940.0,1089.8 941.3,1088.5 942.6,1088.1 943.9,1087.7 945.2,1087.1 946.5,1087.0 947.8,1087.0 949.1,1086.7 950.4,1086.3 951.7,1086.3 953.0,1086.0 954.3,1084.8 955.6,1083.3 956.9,1080.6 958.2,1076.8 959.5,1071.7 960.8,1065.2 962.1,1055.2 963.4,1041.6 964.7,1022.7 966.0,1003.3 967.3,984.7 968.6,968.1 969.9,951.6 971.2,934.1 972.5,922.2 973.8,915.3 975.1,915.1 976.4,919.0 977.7,927.1 979.0,939.1 980.3,955.5 981.6,972.9 982.9,993.5 984.2,1011.9 985.5,1024.8 986.8,1036.7 988.1,1046.7 989.4,1054.9 990.7,1061.2 992.0,1066.8 993.3,1071.2 994.6,1073.9 995.9,1076.4 997.2,1078.2 998.5,1079.1 999.8,1080.2 1001.1,1080.3 1002.4,1081.3 1003.7,1081.3 1005.0,1082.0 1006.3,1081.3 1007.6,1082.5 1008.9,1082.2 1010.2,1082.5 1011.5,1082.8 1012.8,1082.7 1014.1,1083.3 1015.4,1083.5 1016.7,1083.4 1018.0,1084.0 1019.3,1084.0 1020.6,1083.9 1021.9,1084.3 1023.2,1084.5 1024.5,1084.9 1025.8,1085.7 1027.1,1085.2 1028.4,1085.8 1029.7,1085.1 1031.0,1085.5 1032.3,1085.8 1033.6,1086.3 1034.9,1086.5 1036.2,1087.2 1037.5,1087.1 1038.8,1087.4 1040.1,1088.0 1041.4,1087.6 1042.7,1088.3 1044.0,1088.9 1045.3,1088.8 1046.6,1089.9 1047.9,1089.8 1049.2,1090.0 1050.5,1090.4 1051.8,1090.9 1053.1,1090.3 1054.4,1091.6 1055.7,1091.5 1057.0,1092.7 1058.3,1092.1 1059.6,1093.0 1060.9,1093.8 1062.2,1094.5 1063.5,1094.3 1064.8,1094.8 1066.1,1095.3 1067.4,1095.5 1068.7,1095.9 1070.0,1096.3 1071.3,1097.0 1072.6,1097.5 1073.9,1097.4 1075.2,1097.9 1076.5,1097.9 1077.8,1097.4 1079.1,1098.1 1080.4,1097.7 1081.7,1098.3 1083.0,1098.3 1084.3,1098.2 1085.6,1098.2 1086.9,1098.1 1088.2,1097.9 1089.5,1098.6 1090.8,1098.2 1092.1,1099.2 1093.4,1099.7 1094.7,1099.7 1096.0,1100.8 1097.3,1102.4 1098.6,1103.1 1099.9,1103.7 1101.2,1104.2 1102.5,1104.8 1103.8,1105.3 1105.1,1105.4 1106.4,1106.0 1107.7,1106.2 1109.0,1106.8 1110.3,1106.9 1111.6,1107.9 1112.9,1108.0 1114.2,1108.2 1115.5,1108.8 1116.8,1110.1 1118.1,1111.1 1119.4,1111.7 1120.7,1111.9 1122.0,1113.1 1123.3,1113.9 1124.6,1114.2 1125.9,1115.0 1127.2,1115.3 1128.5,1115.3 1129.8,1115.7 1131.1,1115.5 1132.4,1115.4 1133.7,1115.1 1135.0,1115.2 1136.3,1113.6 1137.6,1113.8 1138.9,1112.6 1140.2,1111.6 1141.5,1110.7 1142.8,1110.9 1144.1,1110.7 1145.4,1111.0 1146.7,1111.5 1148.0,1111.4 1149.3,1111.8 1150.6,1113.1 1151.9,1114.4 1153.2,1116.2 1154.5,1118.0 1155.8,1119.2 1157.1,1120.5 1158.4,1121.7 1159.7,1122.5 1161.0,1122.7 1162.3,1123.4 1163.6,1123.5 1164.9,1123.9 1166.2,1123.1 1167.5,1123.3 1168.8,1123.3 1170.1,1121.8 1171.4,1121.4 1172.7,1120.3 1174.0,1120.3 1175.3,1119.1 1176.6,1119.5 1177.9,1118.8 1179.2,1118.0 1180.5,1118.1 1181.8,1117.3 1183.1,1116.4 1184.4,1115.1 1185.7,1113.8 1187.0,1111.2 1188.3,1109.1 1189.6,1104.7 1190.9,1099.7 1192.2,1093.1 1193.5,1088.0 1194.8,1081.8 1196.1,1074.8 1197.4,1068.5 1198.7,1061.8 1200.0,1056.9 1201.3,1051.7 1202.6,1046.5 1203.9,1041.6 1205.2,1036.4 1206.5,1030.9 1207.8,1023.8 1209.1,1016.7 1210.4,1009.9 1211.7,1004.3 1213.0,1001.3 1214.3,998.3 1215.6,996.9 1216.9,996.2 1218.2,996.0 1219.5,997.5 1220.8,999.6 1222.1,1001.4 1223.4,1003.7 1224.7,1005.0 1226.0,1007.2 1227.3,1008.8 1228.6,1012.3 1229.9,1015.1 1231.2,1018.8 1232.5,1023.4 1233.8,1028.8 1235.1,1033.9 1236.4,1041.2 1237.7,1048.9 1239.0,1056.9 1240.3,1066.8 1241.6,1077.6 1242.9,1088.6 1244.2,1099.0 1245.5,1107.3 1246.8,1115.7 1248.1,1122.9 1249.4,1129.2 1250.7,1135.3 1252.0,1140.2 1253.3,1144.7 1254.6,1148.1 1255.9,1150.9 1257.2,1153.1 1258.5,1155.3 1259.8,1156.1 1261.1,1157.7 1262.4,1159.4 1263.7,1159.7 1265.0,1161.1 1266.3,1161.6 1267.6,1162.1 1268.9,1163.1 1270.2,1163.2 1271.5,1164.9 1272.8,1164.8 1274.1,1165.1 1275.4,1165.4 1276.7,1166.2 1278.0,1166.9 1279.3,1167.0 1280.6,1168.0 1281.9,1167.8 1283.2,1168.3 1284.5,1168.4 1285.8,1168.7 1287.1,1170.1 1288.4,1169.8 1289.7,1169.9 1291.0,1171.1 1292.3,1170.6 1293.6,1171.5 1294.9,1171.9 1296.2,1172.4 1297.5,1172.6 1298.8,1172.6 1300.1,1173.6 1301.4,1173.1 1302.7,1173.3 1304.0,1173.4 1305.3,1174.5 1306.6,1174.8 1307.9,1175.3 1309.2,1175.0 1310.5,1175.0 1311.8,1175.5 1313.1,1176.4 1314.4,1176.8 1315.7,1175.8 1317.0,1177.2 1318.3,1177.3 1319.6,1177.2 1320.9,1177.3 1322.2,1177.4 1323.5,1177.5 1324.8,1177.7 1326.1,1177.7 1327.4,1178.4 1328.7,1178.3 1330.0,1178.2 1331.3,1178.6 1332.6,1178.7 1333.9,1178.9 1335.2,1178.6 1336.5,1179.0 1337.8,1179.1 1339.1,1179.0 1340.4,1179.6 1341.7,1179.1 1343.0,1180.0 1344.3,1179.5 1345.6,1180.5 1346.9,1181.2 1348.2,1181.2 1349.5,1181.3 1350.8,1181.4 1352.1,1182.0 1353.4,1181.3 1354.7,1181.8 1356.0,1181.8 1357.3,1181.6 1358.6,1181.5 1359.9,1181.5 1361.2,1181.4 1362.5,1180.8 1363.8,1180.9 1365.1,1180.3 1366.4,1180.0 1367.7,1179.0 1369.0,1177.7 1370.3,1176.6 1371.6,1176.8 1372.9,1175.1 1374.2,1173.7 1375.5,1173.0 1376.8,1172.9 1378.1,1171.8 1379.4,1171.6 1380.7,1170.6 1382.0,1170.7 1383.3,1170.6 1384.6,1170.3 1385.9,1170.9 1387.2,1171.5 1388.5,1172.6 1389.8,1172.4 1391.1,1173.6 1392.4,1174.2 1393.7,1175.5 1395.0,1177.2 1396.3,1178.0 1397.6,1178.3 1398.9,1180.2 1400.2,1181.0 1401.5,1181.3 1402.8,1181.9 1404.1,1183.1 1405.4,1183.1 1406.7,1183.6 1408.0,1183.9 1409.3,1183.5 1410.6,1183.8 1411.9,1182.9 1413.2,1182.3 1414.5,1181.1 1415.8,1180.7 1417.1,1179.8 1418.4,1179.1 1419.7,1178.4 1421.0,1176.9 1422.3,1176.3 1423.6,1175.5 1424.9,1175.6 1426.2,1175.0 1427.5,1175.0 1428.8,1175.6 1430.1,1176.6 1431.4,1177.3 1432.7,1178.4 1434.0,1179.4 1435.3,1180.0 1436.6,1181.5 1437.9,1183.1 1439.2,1183.9 1440.5,1185.4 1441.8,1186.3 1443.1,1186.2 1444.4,1186.7 1445.7,1186.9 1447.0,1187.5 1448.3,1188.0 1449.6,1188.3 1450.9,1188.6 1452.2,1188.7 1453.5,1189.5 1454.8,1189.9 1456.1,1190.6 1457.4,1191.1 1458.7,1191.2 1460.0,1191.9 1461.3,1192.5 1462.6,1193.3 1463.9,1193.1 1465.2,1194.1 1466.5,1193.8 1467.8,1193.8 1469.1,1194.1 1470.4,1193.4 1471.7,1193.2 1473.0,1193.1 1474.3,1192.7 1475.6,1192.3 1476.9,1192.1 1478.2,1191.4 1479.5,1192.3 1480.8,1191.2 1482.1,1190.9 1483.4,1191.0 1484.7,1191.0 1486.0,1190.8 1487.3,1191.0 1488.6,1191.0 1489.9,1192.0 1491.2,1192.8 1492.5,1193.3 1493.8,1193.9 1495.1,1194.1 1496.4,1194.9 1497.7,1195.8 1499.0,1196.6 1500.3,1196.4 1501.6,1197.0 1502.9,1197.7 1504.2,1197.4 1505.5,1197.4 1506.8,1197.7 1508.1,1197.8 1509.4,1197.6 1510.7,1198.1 1512.0,1198.0 1513.3,1198.2 1514.6,1198.1 1515.9,1198.3 1517.2,1198.5 1518.5,1198.8 1519.8,1198.7 1521.1,1199.6 1522.4,1199.6 1523.7,1200.1 1525.0,1199.6 1526.3,1200.1 1527.6,1199.9 1528.9,1199.6 1530.2,1199.7 1531.5,1200.1 1532.8,1199.8 1534.1,1200.3 1535.4,1199.9 1536.7,1200.8 1538.0,1200.1 1539.3,1200.8 1540.6,1201.0 1541.9,1200.8 1543.2,1201.1 1544.5,1201.7 1545.8,1200.8 1547.1,1200.8 1548.4,1201.6 1549.7,1201.6 1551.0,1201.5 1552.3,1201.9 1553.6,1201.7 1554.9,1202.1 1556.2,1201.8 1557.5,1201.6 1558.8,1201.6 1560.1,1202.3 1561.4,1202.3 1562.7,1202.6 1564.0,1202.2 1565.3,1202.7 1566.6,1202.2 1567.9,1202.9 1569.2,1203.0 1570.5,1202.7 1571.8,1203.3 1573.1,1203.1 1574.4,1203.1 1575.7,1203.0 1577.0,1202.9 1578.3,1204.0 1579.6,1203.3 1580.9,1203.0 1582.2,1203.6 1583.5,1203.1 1584.8,1202.9 1586.1,1203.4 1587.4,1203.7 1588.7,1203.7 1590.0,1203.9 1591.3,1203.9 1592.6,1204.2 1593.9,1204.1 1595.2,1203.5 1596.5,1204.2 1597.8,1203.8 1599.0,1203.8"/>
<polyline class="c" stroke="#ff00ff" points="166.5,1021.7 167.8,1021.7 169.1,1020.7 170.4,1019.9 171.7,1020.6 173.0,1017.6 174.3,1018.2 175.6,1017.9 176.9,1018.7 178.2,1018.1 179.5,1018.2 180.8,1018.6 182.1,1018.8 183.4,1018.0 184.7,1016.4 186.0,1017.6 187.3,1016.3 188.6,1018.4 189.9,1016.7 191.2,1015.5 192.5,1015.0 193.8,1013.4 195.1,1014.6 196.4,1012.5 197.7,1014.2 199.0,1010.8 200.3,1011.4 201.6,1014.6 202.9,1014.3 204.2,1013.7 205.5,1009.0 206.8,1009.1 208.1,1008.8 209.4,1008.1 210.7,1010.3 212.0,1008.9 213.3,1009.2 214.6,1008.2 215.9,1007.3 217.2,1010.8 218.5,1008.4 219.8,1005.8 221.1,1008.4 222.4,1005.5 223.7,1005.6 225.0,1007.4 226.3,1004.0 227.6,1004.3 228.9,1003.8 230.2,1006.1 231.5,1006.0 232.8,1003.1 234.1,1004.9 235.4,1000.0 236.7,1001.1 238.0,1002.6 239.3,1000.0 240.6,1000.3 241.9,999.6 243.2,999.7 244.5,998.6 245.8,995.7 247.1,996.7 248.4,995.7 249.7,996.9 251.0,993.2 252.3,993.9 253.6,996.1 254.9,994.4 256.2,996.7 257.5,992.8 258.8,988.7 260.1,993.1 261.4,991.5 262.7,990.3 264.0,988.4 265.3,989.5 266.6,990.0 267.9,989.1 269.2,988.3 270.5,988.5 271.8,987.4 273.1,985.3 274.4,986.5 275.7,986.3 277.0,987.7 278.3,984.7 279.6,982.7 280.9,985.1 282.2,984.0 283.5,981.8 284.8,980.4 286.1,983.5 287.4,978.8 288.7,979.6 290.0,980.3 291.3,978.0 292.6,978.6 293.9,979.0 295.2,977.3 296.5,975.6 297.8,975.9 299.1,976.0 300.4,977.1 301.7,973.7 303.0,976.4 304.3,972.7 305.6,975.1 306.9,975.5 308.2,973.8 309.5,971.3 310.8,973.1 312.1,971.8 313.4,970.3 314.7,968.9 316.0,968.0 317.3,967.7 318.6,970.3 319.9,967.4 321.2,966.7 322.5,964.9 323.8,965.3 325.1,963.9 326.4,962.8 327.7,963.3 329.0,962.0 330.3,962.2 331.6,961.3 332.9,960.0 334.2,961.0 335.5,960.5 336.8,955.6 338.1,958.3 339.4,957.9 340.7,957.2 342.0,958.6 343.3,956.5 344.6,955.3 345.9,954.3 347.2,955.5 348.5,952.1 349.8,953.2 351.1,952.3 352.4,952.1 353.7,951.6 355.0,950.0 356.3,949.5 357.6,950.4 358.9,949.0 360.2,951.3 361.5,949.5 362.8,947.2 364.1,948.8 365.4,947.5 366.7,947.7 368.0,948.9 369.3,947.7 370.6,945.1 371.9,946.5 373.2,944.9 374.5,946.4 375.8,944.7 377.1,942.4 378.4,939.7 379.7,942.8 381.0,942.3 382.3,942.0 383.6,945.4 384.9,942.5 386.2,943.1 387.5,940.6 388.8,942.3 390.1,940.5 391.4,938.9 392.7,940.1 394.0,940.2 395.3,938.6 396.6,941.5 397.9,939.5 399.2,937.3 400.5,935.9 401.8,939.6 403.1,939.4 404.4,938.9 405.7,936.7 407.0,936.5 408.3,938.1 409.6,936.6 410.9,936.9 412.2,937.4 413.5,937.7 414.8,935.2 416.1,935.7 417.4,936.0 418.7,934.7 420.0,936.4 421.3,933.7 422.6,935.4 423.9,934.1 425.2,935.9 426.5,934.3 427.8,933.2 429.1,933.5 430.4,932.1 431.7,934.3 433.0,933.1 434.3,932.9 435.6,933.6 436.9,933.5 438.2,932.3 439.5,931.2 440.8,933.9 442.1,932.9 443.4,932.4 444.7,933.1 446.0,931.7 447.3,933.8 448.6,931.5 449.9,931.4 451.2,931.7 452.5,931.0 453.8,931.2 455.1,931.4 456.4,930.3 457.7,931.6 459.0,931.0 460.3,933.2 461.6,930.4 462.9,929.8 464.2,929.6 465.5,931.0 466.8,930.8 468.1,929.3 469.4,931.3 470.7,928.3 472.0,929.0 473.3,929.5 474.6,929.9 475.9,928.9 477.2,931.4 478.5,931.1 479.8,929.9 481.1,929.8 482.4,929.6 483.7,929.6 485.0,930.4 486.3,930.4 487.6,930.0 488.9,928.9 490.2,927.6 491.5,927.3 492.8,929.4 494.1,927.5 495.4,928.4 496.7,930.2 498.0,929.3 499.3,928.9 500.6,928.9 501.9,929.4 503.2,929.3 504.5,927.5 505.8,927.1 507.1,927.4 508.4,928.1 509.7,930.5 511.0,928.2 512.3,927.9 513.6,928.9 514.9,928.6 516.2,926.7 517.5,925.0 518.8,930.0 520.1,926.6 521.4,926.3 522.7,928.1 524.0,925.5 525.3,926.1 526.6,924.7 527.9,927.2 529.2,925.2 530.5,925.9 531.8,926.6 533.1,925.3 534.4,927.9 535.7,925.1 537.0,923.4 538.3,925.8 539.6,925.8 540.9,925.7 542.2,923.8 543.5,923.9 544.8,924.2 546.1,925.2 547.4,923.9 548.7,925.3 550.0,924.7 551.3,924.4 552.6,922.8 553.9,921.5 555.2,923.5 556.5,924.7 557.8,924.1 559.1,922.1 560.4,923.7 561.7,922.8 563.0,923.2 564.3,921.3 565.6,921.4 566.9,922.0 568.2,923.3 569.5,921.6 570.8,921.9 572.1,923.0 573.4,921.0 574.7,920.8 576.0,920.5 577.3,922.1 578.6,920.2 579.9,919.1 581.2,919.6 582.5,920.3 583.8,920.0 585.1,920.1 586.4,920.5 587.7,919.3 589.0,918.3 590.3,916.6 591.6,918.5 592.9,918.7 594.2,918.1 595.5,917.9 596.8,916.5 598.1,917.4 599.4,914.8 600.7,914.8 602.0,914.2 603.3,916.4 604.6,916.0 605.9,915.7 607.2,916.4 608.5,913.3 609.8,914.5 611.1,913.5 612.4,913.0 613.7,914.0 615.0,912.6 616.3,911.7 617.6,913.1 618.9,911.6 620.2,911.6 621.5,912.2 622.8,910.8 624.1,910.4 625.4,910.8 626.7,911.6 628.0,908.3 629.3,910.9 630.6,910.0 631.9,909.2 633.2,908.9 634.5,907.0 635.8,908.1 637.1,908.4 638.4,907.2 639.7,905.3 641.0,906.1 642.3,904.8 643.6,904.6 644.9,904.4 646.2,905.8 647.5,906.1 648.8,904.2 650.1,905.0 651.4,903.2 652.7,903.0 654.0,904.2 655.3,904.7 656.6,903.5 657.9,899.9 659.2,901.4 660.5,901.6 661.8,901.3 663.1,899.9 664.4,902.7 665.7,898.4 667.0,899.7 668.3,898.5 669.6,898.7 670.9,898.6 672.2,897.6 673.5,898.0 674.8,896.0 676.1,896.2 677.4,896.9 678.7,895.1 680.0,896.2 681.3,894.9 682.6,894.0 683.9,894.5 685.2,893.5 686.5,895.1 687.8,893.3 689.1,894.1 690.4,891.5 691.7,892.6 693.0,891.2 694.3,891.3 695.6,889.8 696.9,890.6 698.2,890.9 699.5,888.0 700.8,887.4 702.1,889.2 703.4,886.1 704.7,886.3 706.0,885.3 707.3,884.0 708.6,884.3 709.9,884.0 711.2,881.7 712.5,883.8 713.8,882.4 715.1,879.6 716.4,881.1 717.7,882.2 719.0,879.0 720.3,879.2 721.6,879.9 722.9,875.9 724.2,878.1 725.5,877.9 726.8,876.9 728.1,874.0 729.4,874.9 730.7,873.4 732.0,874.0 733.3,873.0 734.6,871.0 735.9,870.5 737.2,869.1 738.5,868.8 739.8,868.1 741.1,867.6 742.4,866.6 743.7,865.4 745.0,865.4 746.3,864.2 747.6,863.8 748.9,862.5 750.2,863.6 751.5,862.7 752.8,862.0 754.1,859.5 755.4,859.8 756.7,858.7 758.0,858.3 759.3,858.0 760.6,857.6 761.9,855.5 763.2,856.5 764.5,855.9 765.8,855.1 767.1,852.9 768.4,852.9 769.7,852.0 771.0,850.7 772.3,849.9 773.6,849.8 774.9,848.3 776.2,847.3 777.5,847.4 778.8,846.8 780.1,846.8 781.4,846.6 782.7,843.5 784.0,844.0 785.3,843.4 786.6,841.3 787.9,841.0 789.2,840.5 790.5,839.4 791.8,839.3 793.1,839.2 794.4,838.6 795.7,836.0 797.0,834.9 798.3,835.1 799.6,833.3 800.9,832.5 802.2,832.2 803.5,830.0 804.8,831.0 806.1,828.5 807.4,828.1 808.7,826.4 810.0,826.2 811.3,824.3 812.6,822.6 813.9,822.5 815.2,822.4 816.5,819.8 817.8,820.5 819.1,820.4 820.4,817.8 821.7,817.7 823.0,815.8 824.3,815.7 825.6,813.7 826.9,811.1 828.2,811.3 829.5,811.6 830.8,809.4 832.1,807.8 833.4,807.6 834.7,805.1 836.0,806.4 837.3,803.2 838.6,803.2 839.9,801.9 841.2,800.3 842.5,798.4 843.8,798.3 845.1,797.1 846.4,795.9 847.7,793.3 849.0,793.7 850.3,792.4 851.6,791.4 852.9,790.2 854.2,788.6 855.5,786.9 856.8,787.1 858.1,784.8 859.4,783.8 860.7,783.4 862.0,783.6 863.3,781.5 864.6,780.7 865.9,778.5 867.2,777.4 868.5,776.8 869.8,775.5 871.1,774.3 872.4,773.2 873.7,771.5 875.0,770.5 876.3,769.4 877.6,769.5 878.9,766.9 880.2,765.9 881.5,765.2 882.8,764.0 884.1,762.8 885.4,759.7 886.7,759.7 888.0,758.4 889.3,757.2 890.6,756.3 891.9,755.5 893.2,753.8 894.5,751.8 895.8,750.7 897.1,748.4 898.4,747.6 899.7,748.0 901.0,745.7 902.3,743.2 903.6,742.8 904.9,742.0 906.2,740.8 907.5,738.2 908.8,737.6 910.1,737.8 911.4,737.8 912.7,734.3 914.0,732.1 915.3,731.3 916.6,730.2 917.9,729.5 919.2,729.4 920.5,729.0 921.8,725.0 923.1,725.5 924.4,724.9 925.7,723.4 927.0,722.5 928.3,721.5 929.6,721.9 930.9,720.2 932.2,718.4 933.5,719.5 934.8,717.8 936.1,715.2 937.4,714.5 938.7,714.6 940.0,714.0 941.3,711.9 942.6,713.0 943.9,711.6 945.2,711.2 946.5,708.6 947.8,707.6 949.1,708.5 950.4,707.4 951.7,707.5 953.0,705.4 954.3,705.7 955.6,702.7 956.9,703.3 958.2,703.8 959.5,701.6 960.8,701.4 962.1,701.3 963.4,701.4 964.7,701.3 966.0,699.0 967.3,698.4 968.6,699.9 969.9,699.9 971.2,697.1 972.5,696.5 973.8,696.9 975.1,696.5 976.4,694.3 977.7,695.9 979.0,693.1 980.3,693.5 981.6,691.8 982.9,693.8 984.2,693.1 985.5,692.8 986.8,691.1 988.1,691.8 989.4,690.1 990.7,691.0 992.0,691.8 993.3,690.8 994.6,689.4 995.9,690.8 997.2,689.0 998.5,689.1 999.8,689.8 1001.1,687.8 1002.4,688.9 1003.7,688.5 1005.0,687.4 1006.3,688.3 1007.6,688.4 1008.9,688.6 1010.2,688.5 1011.5,689.3 1012.8,689.0 1014.1,688.5 1015.4,688.8 1016.7,689.6 1018.0,688.4 1019.3,689.9 1020.6,689.3 1021.9,689.9 1023.2,688.8 1024.5,691.1 1025.8,689.5 1027.1,690.9 1028.4,691.0 1029.7,692.4 1031.0,692.0 1032.3,693.1 1033.6,692.7 1034.9,692.8 1036.2,694.5 1037.5,693.6 1038.8,693.3 1040.1,693.5 1041.4,696.7 1042.7,696.9 1044.0,696.7 1045.3,698.5 1046.6,699.5 1047.9,699.1 1049.2,699.2 1050.5,702.6 1051.8,700.5 1053.1,702.1 1054.4,701.9 1055.7,701.5 1057.0,703.6 1058.3,704.2 1059.6,705.7 1060.9,705.9 1062.2,706.3 1063.5,708.5 1064.8,707.9 1066.1,708.2 1067.4,709.3 1068.7,710.0 1070.0,710.9 1071.3,713.3 1072.6,713.5 1073.9,715.2 1075.2,716.1 1076.5,715.6 1077.8,717.6 1079.1,718.3 1080.4,719.5 1081.7,722.2 1083.0,723.4 1084.3,723.9 1085.6,722.6 1086.9,726.1 1088.2,727.1 1089.5,728.6 1090.8,728.2 1092.1,728.3 1093.4,729.7 1094.7,732.5 1096.0,733.8 1097.3,734.6 1098.6,734.4 1099.9,736.3 1101.2,737.7 1102.5,737.6 1103.8,739.9 1105.1,740.1 1106.4,741.4 1107.7,741.9 1109.0,744.4 1110.3,744.1 1111.6,746.3 1112.9,746.4 1114.2,747.3 1115.5,749.0 1116.8,751.1 1118.1,751.5 1119.4,752.8 1120.7,754.2 1122.0,755.5 1123.3,756.3 1124.6,757.3 1125.9,758.0 1127.2,760.6 1128.5,759.2 1129.8,760.5 1131.1,762.9 1132.4,764.0 1133.7,764.5 1135.0,766.7 1136.3,766.3 1137.6,767.7 1138.9,770.2 1140.2,769.6 1141.5,772.4 1142.8,772.8 1144.1,774.2 1145.4,774.9 1146.7,776.5 1148.0,777.9 1149.3,777.3 1150.6,778.4 1151.9,781.2 1153.2,781.5 1154.5,781.9 1155.8,784.8 1157.1,784.3 1158.4,786.3 1159.7,786.7 1161.0,788.4 1162.3,788.0 1163.6,789.2 1164.9,792.1 1166.2,791.5 1167.5,794.6 1168.8,796.0 1170.1,795.3 1171.4,796.9 1172.7,798.4 1174.0,798.6 1175.3,800.7 1176.6,800.5 1177.9,801.6 1179.2,804.5 1180.5,805.1 1181.8,805.0 1183.1,805.9 1184.4,807.7 1185.7,809.1 1187.0,810.0 1188.3,811.2 1189.6,811.2 1190.9,812.6 1192.2,813.5 1193.5,815.8 1194.8,816.2 1196.1,815.9 1197.4,817.4 1198.7,818.7 1200.0,819.2 1201.3,819.9 1202.6,821.3 1203.9,821.6 1205.2,822.4 1206.5,824.4 1207.8,823.5 1209.1,825.4 1210.4,825.7 1211.7,826.3 1213.0,826.9 1214.3,828.3 1215.6,829.5 1216.9,829.1 1218.2,830.2 1219.5,831.3 1220.8,831.4 1222.1,831.8 1223.4,833.1 1224.7,835.1 1226.0,833.6 1227.3,835.1 1228.6,835.6 1229.9,837.0 1231.2,836.9 1232.5,838.9 1233.8,838.0 1235.1,841.3 1236.4,840.8 1237.7,842.8 1239.0,842.1 1240.3,843.1 1241.6,844.4 1242.9,845.3 1244.2,845.6 1245.5,847.6 1246.8,847.2 1248.1,847.9 1249.4,848.7 1250.7,849.1 1252.0,851.7 1253.3,851.2 1254.6,852.2 1255.9,851.7 1257.2,852.3 1258.5,853.3 1259.8,853.6 1261.1,855.2 1262.4,855.9 1263.7,856.8 1265.0,855.7 1266.3,858.8 1267.6,858.3 1268.9,858.8 1270.2,859.5 1271.5,859.8 1272.8,860.2 1274.1,860.6 1275.4,862.0 1276.7,860.8 1278.0,860.1 1279.3,861.8 1280.6,862.7 1281.9,863.6 1283.2,865.2 1284.5,864.8 1285.8,864.9 1287.1,867.5 1288.4,867.4 1289.7,867.8 1291.0,867.4 1292.3,868.8 1293.6,869.7 1294.9,868.3 1296.2,869.2 1297.5,869.4 1298.8,871.4 1300.1,870.9 1301.4,871.4 1302.7,871.4 1304.0,873.2 1305.3,873.4 1306.6,874.3 1307.9,875.6 1309.2,875.3 1310.5,875.8 1311.8,875.5 1313.1,875.8 1314.4,876.5 1315.7,876.9 1317.0,878.5 1318.3,878.3 1319.6,878.3 1320.9,878.0 1322.2,880.1 1323.5,879.1 1324.8,880.9 1326.1,881.4 1327.4,880.6 1328.7,881.0 1330.0,882.2 1331.3,883.4 1332.6,882.5 1333.9,883.0 1335.2,883.5 1336.5,884.8 1337.8,885.6 1339.1,886.1 1340.4,886.7 1341.7,884.9 1343.0,885.5 1344.3,887.0 1345.6,887.8 1346.9,887.5 1348.2,886.8 1349.5,887.1 1350.8,887.0 1352.1,889.2 1353.4,889.0 1354.7,889.5 1356.0,889.7 1357.3,889.7 1358.6,890.4 1359.9,891.8 1361.2,892.1 1362.5,891.4 1363.8,891.9 1365.1,891.8 1366.4,892.5 1367.7,892.1 1369.0,893.6 1370.3,893.3 1371.6,894.0 1372.9,892.7 1374.2,893.4 1375.5,894.5 1376.8,896.1 1378.1,893.8 1379.4,894.9 1380.7,895.5 1382.0,895.1 1383.3,896.3 1384.6,896.1 1385.9,896.8 1387.2,897.0 1388.5,896.2 1389.8,897.8 1391.1,896.8 1392.4,898.9 1393.7,898.0 1395.0,899.0 1396.3,899.6 1397.6,899.9 1398.9,898.7 1400.2,898.8 1401.5,900.0 1402.8,899.9 1404.1,900.6 1405.4,900.9 1406.7,900.8 1408.0,902.5 1409.3,899.6 1410.6,901.0 1411.9,902.6 1413.2,901.5 1414.5,903.1 1415.8,901.9 1417.1,903.5 1418.4,904.6 1419.7,903.3 1421.0,904.6 1422.3,903.1 1423.6,904.4 1424.9,904.1 1426.2,905.8 1427.5,905.3 1428.8,905.5 1430.1,904.2 1431.4,906.5 1432.7,906.9 1434.0,907.2 1435.3,907.1 1436.6,907.4 1437.9,907.3 1439.2,908.8 1440.5,907.7 1441.8,908.4 1443.1,907.9 1444.4,909.8 1445.7,909.2 1447.0,909.0 1448.3,908.1 1449.6,907.9 1450.9,909.7 1452.2,909.6 1453.5,910.9 1454.8,909.3 1456.1,909.6 1457.4,910.8 1458.7,910.4 1460.0,910.7 1461.3,910.1 1462.6,910.3 1463.9,912.2 1465.2,912.2 1466.5,912.5 1467.8,911.2 1469.1,911.9 1470.4,912.7 1471.7,912.4 1473.0,912.1 1474.3,913.0 1475.6,913.4 1476.9,913.1 1478.2,914.3 1479.5,914.6 1480.8,914.6 1482.1,914.4 1483.4,913.8 1484.7,912.8 1486.0,916.2 1487.3,914.9 1488.6,915.8 1489.9,915.9 1491.2,916.6 1492.5,916.1 1493.8,915.8 1495.1,915.8 1496.4,915.1 1497.7,915.9 1499.0,916.5 1500.3,915.8 1501.6,917.5 1502.9,917.4 1504.2,917.6 1505.5,917.0 1506.8,917.7 1508.1,918.3 1509.4,918.2 1510.7,919.3 1512.0,918.1 1513.3,918.3 1514.6,919.5 1515.9,919.9 1517.2,920.0 1518.5,919.6 1519.8,920.1 1521.1,920.8 1522.4,920.8 1523.7,919.4 1525.0,920.5 1526.3,921.3 1527.6,920.5 1528.9,920.8 1530.2,921.3 1531.5,922.1 1532.8,921.3 1534.1,922.4 1535.4,921.9 1536.7,920.9 1538.0,921.4 1539.3,921.1 1540.6,923.1 1541.9,921.7 1543.2,924.4 1544.5,923.6 1545.8,922.8 1547.1,923.4 1548.4,924.2 1549.7,924.8 1551.0,923.1 1552.3,923.9 1553.6,924.4 1554.9,924.8 1556.2,924.3 1557.5,924.1 1558.8,925.4 1560.1,922.7 1561.4,926.4 1562.7,925.7 1564.0,925.8 1565.3,924.6 1566.6,924.5 1567.9,925.6 1569.2,925.5 1570.5,925.1 1571.8,925.6 1573.1,926.5 1574.4,925.4 1575.7,925.8 1577.0,926.4 1578.3,926.1 1579.6,926.6 1580.9,927.4 1582.2,926.6 1583.5,927.5 1584.8,928.3 1586.1,927.3 1587.4,927.4 1588.7,927.9 1590.0,930.0 1591.3,926.3 1592.6,928.4 1593.9,927.0 1595.2,927.8 1596.5,927.8 1597.8,929.0 1599.0,929.0"/>
<polyline class="c" stroke="#808000" points="166.5,728.2 167.8,728.2 169.1,729.6 170.4,730.5 171.7,728.5 173.0,729.4 174.3,728.9 175.6,730.9 176.9,728.9 178.2,730.1 179.5,728.7 180.8,730.4 182.1,728.3 183.4,727.9 184.7,728.8 186.0,731.9 187.3,728.5 188.6,726.6 189.9,727.0 191.2,732.3 192.5,727.9 193.8,727.9 195.1,728.3 196.4,730.1 197.7,728.5 199.0,728.1 200.3,727.2 201.6,725.7 202.9,726.4 204.2,725.3 205.5,723.3 206.8,721.2 208.1,726.4 209.4,725.6 210.7,724.5 212.0,723.9 213.3,722.9 214.6,720.5 215.9,719.8 217.2,720.0 218.5,719.6 219.8,718.8 221.1,717.6 222.4,719.9 223.7,719.4 225.0,720.4 226.3,720.1 227.6,716.2 228.9,717.5 230.2,716.1 231.5,716.3 232.8,718.3 234.1,717.4 235.4,715.3 236.7,715.6 238.0,714.6 239.3,712.9 240.6,712.4 241.9,711.2 243.2,714.1 244.5,710.1 245.8,710.3 247.1,710.2 248.4,708.8 249.7,711.9 251.0,710.0 252.3,705.4 253.6,706.8 254.9,709.1 256.2,706.5 257.5,707.1 258.8,706.7 260.1,706.1 261.4,704.4 262.7,704.8 264.0,704.5 265.3,702.6 266.6,703.8 267.9,702.9 269.2,702.6 270.5,702.7 271.8,700.9 273.1,699.0 274.4,701.2 275.7,700.1 277.0,697.2 278.3,696.6 279.6,698.1 280.9,697.9 282.2,694.0 283.5,695.2 284.8,694.3 286.1,694.2 287.4,694.7 288.7,695.9 290.0,691.5 291.3,694.4 292.6,693.1 293.9,694.2 295.2,690.5 296.5,690.2 297.8,690.7 299.1,689.2 300.4,690.6 301.7,688.1 303.0,688.3 304.3,687.0 305.6,684.5 306.9,686.3 308.2,683.7 309.5,683.9 310.8,683.0 312.1,683.4 313.4,680.1 314.7,683.1 316.0,682.0 317.3,680.3 318.6,678.2 319.9,677.3 321.2,677.9 322.5,676.6 323.8,677.2 325.1,677.1 326.4,676.9 327.7,675.6 329.0,673.4 330.3,676.8 331.6,676.5 332.9,672.2 334.2,672.3 335.5,675.5 336.8,673.9 338.1,671.6 339.4,671.8 340.7,668.3 342.0,669.7 343.3,671.1 344.6,666.0 345.9,669.1 347.2,666.3 348.5,669.9 349.8,665.3 351.1,664.7 352.4,665.0 353.7,664.5 355.0,665.4 356.3,666.4 357.6,662.4 358.9,663.2 360.2,664.0 361.5,661.6 362.8,663.6 364.1,662.9 365.4,662.6 366.7,661.6 368.0,662.3 369.3,662.8 370.6,660.5 371.9,662.1 373.2,660.3 374.5,657.5 375.8,661.4 377.1,659.7 378.4,660.8 379.7,658.1 381.0,658.6 382.3,657.5 383.6,656.1 384.9,658.1 386.2,659.7 387.5,657.5 388.8,656.6 390.1,655.9 391.4,654.7 392.7,656.6 394.0,656.9 395.3,655.3 396.6,655.0 397.9,654.5 399.2,653.7 400.5,656.8 401.8,655.7 403.1,654.5 404.4,652.6 405.7,653.2 407.0,655.1 408.3,654.8 409.6,656.9 410.9,654.1 412.2,652.8 413.5,652.4 414.8,649.6 416.1,653.1 417.4,649.3 418.7,651.3 420.0,650.7 421.3,651.7 422.6,651.8 423.9,651.8 425.2,651.4 426.5,650.4 427.8,651.1 429.1,650.6 430.4,648.7 431.7,650.8 433.0,649.2 434.3,650.2 435.6,650.6 436.9,649.0 438.2,648.1 439.5,650.8 440.8,649.0 442.1,649.3 443.4,650.6 444.7,648.5 446.0,649.4 447.3,649.9 448.6,647.8 449.9,648.1 451.2,649.1 452.5,650.4 453.8,646.8 455.1,650.0 456.4,650.2 457.7,648.3 459.0,648.8 460.3,646.7 461.6,650.0 462.9,648.1 464.2,649.3 465.5,647.2 466.8,650.2 468.1,648.0 469.4,648.7 470.7,649.9 472.0,649.0 473.3,647.5 474.6,648.7 475.9,649.3 477.2,648.6 478.5,648.6 479.8,648.1 481.1,648.1 482.4,648.3 483.7,647.2 485.0,649.0 486.3,649.1 487.6,647.6 488.9,647.5 490.2,647.7 491.5,647.3 492.8,648.4 494.1,649.0 495.4,648.8 496.7,649.2 498.0,646.7 499.3,649.2 500.6,647.5 501.9,647.9 503.2,647.0 504.5,646.7 505.8,647.1 507.1,646.3 508.4,646.4 509.7,645.4 511.0,648.7 512.3,649.3 513.6,647.4 514.9,645.2 516.2,647.3 517.5,649.1 518.8,645.4 520.1,648.8 521.4,647.4 522.7,643.7 524.0,647.3 525.3,646.8 526.6,646.0 527.9,644.2 529.2,645.5 530.5,648.3 531.8,645.2 533.1,643.9 534.4,646.3 535.7,645.7 537.0,644.5 538.3,646.1 539.6,644.4 540.9,644.7 542.2,643.8 543.5,646.3 544.8,644.7 546.1,643.3 547.4,646.5 548.7,644.9 550.0,643.9 551.3,645.1 552.6,642.7 553.9,643.3 555.2,643.1 556.5,644.5 557.8,642.8 559.1,643.6 560.4,643.0 561.7,642.8 563.0,641.6 564.3,642.9 565.6,639.4 566.9,640.9 568.2,639.3 569.5,642.4 570.8,642.3 572.1,639.6 573.4,641.3 574.7,639.5 576.0,641.7 577.3,639.5 578.6,642.7 579.9,641.1 581.2,641.0 582.5,638.7 583.8,636.7 585.1,638.0 586.4,638.3 587.7,637.9 589.0,637.1 590.3,636.8 591.6,636.4 592.9,640.0 594.2,636.3 595.5,635.9 596.8,632.5 598.1,637.1 599.4,635.6 600.7,634.8 602.0,634.3 603.3,634.1 604.6,636.4 605.9,633.8 607.2,636.5 608.5,635.4 609.8,633.3 611.1,631.7 612.4,634.2 613.7,632.4 615.0,631.9 616.3,632.7 617.6,633.9 618.9,628.5 620.2,629.4 621.5,629.5 622.8,632.2 624.1,629.6 625.4,631.2 626.7,631.5 628.0,628.4 629.3,628.6 630.6,628.5 631.9,628.6 633.2,627.6 634.5,627.8 635.8,624.5 637.1,625.8 638.4,624.7 639.7,627.2 641.0,624.9 642.3,624.2 643.6,624.6 644.9,625.7 646.2,626.3 647.5,622.5 648.8,623.3 650.1,624.6 651.4,622.2 652.7,624.4 654.0,622.0 655.3,623.7 656.6,622.9 657.9,621.6 659.2,620.3 660.5,619.0 661.8,620.0 663.1,622.3 664.4,617.7 665.7,619.5 667.0,618.5 668.3,619.0 669.6,617.6 670.9,617.7 672.2,616.6 673.5,618.1 674.8,615.4 676.1,614.9 677.4,617.5 678.7,614.6 680.0,615.0 681.3,612.7 682.6,612.5 683.9,613.1 685.2,611.3 686.5,611.4 687.8,610.1 689.1,610.4 690.4,609.0 691.7,609.8 693.0,606.3 694.3,608.8 695.6,608.2 696.9,606.9 698.2,609.0 699.5,606.3 700.8,606.8 702.1,605.8 703.4,603.9 704.7,602.2 706.0,601.9 707.3,601.9 708.6,600.2 709.9,600.6 711.2,600.0 712.5,598.2 713.8,598.9 715.1,597.1 716.4,599.4 717.7,595.7 719.0,596.4 720.3,594.9 721.6,591.4 722.9,592.6 724.2,593.1 725.5,592.0 726.8,594.2 728.1,591.2 729.4,591.7 730.7,590.5 732.0,589.7 733.3,589.2 734.6,589.2 735.9,588.4 737.2,586.1 738.5,586.6 739.8,585.4 741.1,585.4 742.4,584.2 743.7,584.5 745.0,581.7 746.3,581.4 747.6,583.3 748.9,581.2 750.2,581.8 751.5,580.3 752.8,578.5 754.1,579.3 755.4,577.3 756.7,576.1 758.0,577.3 759.3,574.0 760.6,575.3 761.9,573.6 763.2,571.0 764.5,571.6 765.8,569.5 767.1,569.2 768.4,569.2 769.7,569.5 771.0,565.3 772.3,567.4 773.6,566.0 774.9,565.3 776.2,564.4 777.5,564.6 778.8,563.1 780.1,561.2 781.4,557.8 782.7,558.8 784.0,558.4 785.3,557.4 786.6,555.5 787.9,556.6 789.2,554.1 790.5,552.1 791.8,552.8 793.1,549.8 794.4,550.6 795.7,549.4 797.0,548.3 798.3,547.9 799.6,545.5 800.9,544.4 802.2,543.4 803.5,543.1 804.8,540.2 806.1,540.5 807.4,541.1 808.7,540.3 810.0,537.6 811.3,537.7 812.6,535.5 813.9,534.3 815.2,533.6 816.5,532.2 817.8,529.6 819.1,529.6 820.4,528.4 821.7,527.6 823.0,526.2 824.3,525.8 825.6,523.9 826.9,523.4 828.2,521.3 829.5,520.2 830.8,518.9 832.1,517.1 833.4,516.3 834.7,516.6 836.0,515.4 837.3,512.9 838.6,513.5 839.9,511.4 841.2,510.0 842.5,507.6 843.8,506.5 845.1,505.7 846.4,505.7 847.7,503.5 849.0,503.2 850.3,501.4 851.6,501.2 852.9,500.6 854.2,498.2 855.5,496.0 856.8,496.0 858.1,494.5 859.4,494.3 860.7,492.9 862.0,490.4 863.3,490.2 864.6,489.8 865.9,489.1 867.2,487.4 868.5,485.9 869.8,484.9 871.1,485.4 872.4,482.1 873.7,482.5 875.0,480.4 876.3,480.0 877.6,478.5 878.9,478.2 880.2,475.0 881.5,474.7 882.8,475.2 884.1,473.2 885.4,471.0 886.7,471.3 888.0,469.4 889.3,469.7 890.6,466.7 891.9,466.8 893.2,465.2 894.5,463.4 895.8,461.7 897.1,462.5 898.4,461.7 899.7,459.4 901.0,456.4 902.3,457.4 903.6,458.5 904.9,453.5 906.2,452.0 907.5,452.5 908.8,451.5 910.1,450.0 911.4,449.4 912.7,449.4 914.0,445.7 915.3,447.5 916.6,446.2 917.9,445.8 919.2,442.7 920.5,442.3 921.8,440.2 923.1,440.1 924.4,439.3 925.7,436.9 927.0,436.7 928.3,437.1 929.6,435.1 930.9,435.3 932.2,435.1 933.5,433.3 934.8,431.5 936.1,430.7 937.4,430.4 938.7,430.2 940.0,430.2 941.3,428.5 942.6,427.6 943.9,426.8 945.2,428.2 946.5,426.6 947.8,425.0 949.1,421.4 950.4,424.9 951.7,423.6 953.0,422.3 954.3,420.6 955.6,421.9 956.9,422.3 958.2,418.3 959.5,420.1 960.8,418.6 962.1,418.8 963.4,416.2 964.7,417.5 966.0,415.9 967.3,415.2 968.6,417.0 969.9,414.0 971.2,414.4 972.5,415.8 973.8,413.8 975.1,412.5 976.4,411.3 977.7,410.4 979.0,411.6 980.3,410.3 981.6,411.5 982.9,411.8 984.2,411.7 985.5,409.7 986.8,410.8 988.1,410.8 989.4,411.7 990.7,410.4 992.0,410.6 993.3,409.4 994.6,411.1 995.9,410.7 997.2,410.2 998.5,410.7 999.8,410.4 1001.1,412.0 1002.4,412.1 1003.7,411.0 1005.0,411.6 1006.3,411.9 1007.6,414.6 1008.9,413.5 1010.2,413.3 1011.5,413.9 1012.8,413.1 1014.1,414.9 1015.4,415.3 1016.7,415.5 1018.0,416.6 1019.3,417.5 1020.6,416.8 1021.9,418.5 1023.2,417.7 1024.5,420.8 1025.8,420.3 1027.1,418.5 1028.4,420.9 1029.7,421.2 1031.0,424.4 1032.3,423.1 1033.6,424.7 1034.9,424.8 1036.2,426.8 1037.5,426.4 1038.8,425.9 1040.1,427.5 1041.4,427.7 1042.7,428.8 1044.0,429.3 1045.3,430.6 1046.6,433.1 1047.9,433.0 1049.2,433.1 1050.5,433.8 1051.8,435.5 1053.1,436.4 1054.4,437.6 1055.7,438.0 1057.0,438.3 1058.3,440.5 1059.6,440.5 1060.9,442.9 1062.2,443.0 1063.5,446.0 1064.8,444.6 1066.1,444.7 1067.4,446.6 1068.7,447.8 1070.0,448.9 1071.3,448.4 1072.6,451.0 1073.9,452.4 1075.2,455.2 1076.5,454.2 1077.8,455.3 1079.1,457.8 1080.4,459.4 1081.7,460.2 1083.0,461.0 1084.3,462.3 1085.6,462.4 1086.9,462.9 1088.2,464.5 1089.5,468.4 1090.8,467.9 1092.1,467.2 1093.4,470.0 1094.7,469.9 1096.0,472.3 1097.3,473.2 1098.6,473.2 1099.9,473.3 1101.2,476.4 1102.5,477.0 1103.8,477.1 1105.1,476.9 1106.4,480.1 1107.7,480.2 1109.0,482.6 1110.3,482.8 1111.6,483.9 1112.9,484.2 1114.2,485.4 1115.5,487.7 1116.8,489.5 1118.1,490.1 1119.4,488.5 1120.7,490.6 1122.0,491.7 1123.3,492.7 1124.6,492.6 1125.9,494.8 1127.2,494.9 1128.5,498.6 1129.8,498.3 1131.1,501.2 1132.4,501.0 1133.7,501.6 1135.0,503.2 1136.3,504.1 1137.6,507.0 1138.9,507.1 1140.2,506.4 1141.5,508.9 1142.8,510.8 1144.1,510.9 1145.4,512.8 1146.7,512.9 1148.0,513.4 1149.3,514.9 1150.6,516.7 1151.9,517.9 1153.2,518.6 1154.5,518.0 1155.8,522.0 1157.1,521.5 1158.4,522.7 1159.7,523.3 1161.0,525.8 1162.3,525.8 1163.6,527.9 1164.9,528.2 1166.2,529.3 1167.5,529.8 1168.8,530.1 1170.1,533.3 1171.4,533.3 1172.7,535.3 1174.0,537.1 1175.3,535.3 1176.6,537.8 1177.9,538.0 1179.2,538.4 1180.5,539.4 1181.8,541.7 1183.1,543.5 1184.4,542.3 1185.7,543.8 1187.0,544.7 1188.3,544.9 1189.6,547.5 1190.9,547.8 1192.2,548.3 1193.5,549.0 1194.8,550.0 1196.1,551.4 1197.4,550.2 1198.7,553.9 1200.0,553.4 1201.3,554.7 1202.6,555.3 1203.9,555.4 1205.2,558.1 1206.5,557.5 1207.8,558.7 1209.1,559.8 1210.4,558.2 1211.7,562.9 1213.0,562.9 1214.3,560.6 1215.6,563.9 1216.9,563.5 1218.2,566.1 1219.5,564.7 1220.8,566.8 1222.1,567.0 1223.4,568.7 1224.7,569.2 1226.0,569.6 1227.3,570.8 1228.6,572.0 1229.9,572.4 1231.2,575.0 1232.5,572.6 1233.8,573.6 1235.1,576.1 1236.4,574.9 1237.7,576.8 1239.0,578.7 1240.3,576.5 1241.6,579.6 1242.9,581.3 1244.2,579.9 1245.5,578.9 1246.8,579.9 1248.1,581.4 1249.4,584.5 1250.7,583.7 1252.0,583.7 1253.3,585.1 1254.6,585.4 1255.9,585.5 1257.2,585.0 1258.5,588.4 1259.8,587.7 1261.1,587.3 1262.4,588.3 1263.7,589.0 1265.0,591.3 1266.3,589.7 1267.6,590.1 1268.9,590.5 1270.2,591.9 1271.5,592.1 1272.8,591.1 1274.1,593.5 1275.4,591.6 1276.7,593.9 1278.0,595.0 1279.3,593.1 1280.6,594.8 1281.9,593.9 1283.2,596.4 1284.5,596.1 1285.8,597.3 1287.1,596.8 1288.4,596.8 1289.7,596.6 1291.0,599.0 1292.3,598.6 1293.6,598.7 1294.9,597.7 1296.2,600.4 1297.5,601.3 1298.8,601.0 1300.1,600.8 1301.4,601.6 1302.7,604.0 1304.0,602.7 1305.3,602.2 1306.6,604.8 1307.9,603.4 1309.2,602.3 1310.5,604.7 1311.8,606.0 1313.1,604.8 1314.4,605.3 1315.7,608.0 1317.0,605.9 1318.3,607.2 1319.6,607.1 1320.9,608.6 1322.2,608.1 1323.5,607.8 1324.8,610.2 1326.1,609.0 1327.4,609.5 1328.7,610.4 1330.0,608.9 1331.3,610.2 1332.6,611.0 1333.9,611.5 1335.2,610.7 1336.5,611.1 1337.8,611.8 1339.1,611.9 1340.4,613.2 1341.7,613.6 1343.0,613.4 1344.3,613.1 1345.6,614.0 1346.9,613.6 1348.2,612.8 1349.5,616.2 1350.8,614.0 1352.1,614.4 1353.4,615.7 1354.7,614.0 1356.0,613.6 1357.3,614.9 1358.6,615.6 1359.9,618.7 1361.2,616.8 1362.5,618.5 1363.8,618.1 1365.1,617.9 1366.4,619.1 1367.7,617.2 1369.0,618.0 1370.3,618.2 1371.6,619.9 1372.9,618.7 1374.2,619.9 1375.5,618.7 1376.8,619.3 1378.1,619.7 1379.4,621.4 1380.7,620.4 1382.0,622.6 1383.3,621.9 1384.6,621.5 1385.9,622.9 1387.2,623.1 1388.5,620.9 1389.8,623.2 1391.1,624.6 1392.4,624.7 1393.7,623.2 1395.0,622.1 1396.3,622.1 1397.6,622.6 1398.9,624.5 1400.2,625.2 1401.5,623.9 1402.8,627.2 1404.1,625.8 1405.4,627.0 1406.7,625.7 1408.0,628.2 1409.3,627.3 1410.6,627.3 1411.9,626.3 1413.2,626.5 1414.5,629.7 1415.8,627.0 1417.1,628.2 1418.4,629.0 1419.7,627.9 1421.0,628.7 1422.3,629.4 1423.6,629.9 1424.9,630.9 1426.2,629.0 1427.5,630.4 1428.8,631.1 1430.1,629.7 1431.4,629.8 1432.7,630.5 1434.0,631.3 1435.3,630.8 1436.6,630.0 1437.9,630.4 1439.2,630.5 1440.5,630.1 1441.8,630.5 1443.1,630.6 1444.4,629.7 1445.7,628.8 1447.0,627.6 1448.3,626.3 1449.6,625.1 1450.9,624.1 1452.2,623.8 1453.5,625.0 1454.8,624.7 1456.1,625.9 1457.4,627.1 1458.7,629.4 1460.0,631.3 1461.3,631.5 1462.6,632.8 1463.9,632.9 1465.2,633.5 1466.5,633.8 1467.8,634.7 1469.1,635.2 1470.4,634.7 1471.7,635.2 1473.0,634.7 1474.3,634.9 1475.6,635.6 1476.9,635.9 1478.2,635.9 1479.5,636.3 1480.8,635.8 1482.1,636.0 1483.4,636.6 1484.7,636.1 1486.0,636.3 1487.3,636.4 1488.6,636.9 1489.9,636.5 1491.2,637.6 1492.5,637.6 1493.8,637.2 1495.1,636.8 1496.4,638.7 1497.7,637.7 1499.0,638.5 1500.3,638.2 1501.6,638.3 1502.9,638.7 1504.2,638.5 1505.5,639.1 1506.8,639.2 1508.1,638.9 1509.4,639.1 1510.7,639.5 1512.0,640.2 1513.3,640.1 1514.6,640.3 1515.9,640.0 1517.2,640.3 1518.5,640.6 1519.8,640.0 1521.1,640.8 1522.4,640.5 1523.7,640.8 1525.0,640.8 1526.3,641.8 1527.6,641.4 1528.9,641.3 1530.2,641.7 1531.5,642.1 1532.8,642.3 1534.1,642.1 1535.4,642.2 1536.7,642.5 1538.0,643.0 1539.3,643.3 1540.6,644.4 1541.9,643.4 1543.2,643.8 1544.5,643.5 1545.8,643.8 1547.1,643.9 1548.4,644.2 1549.7,643.8 1551.0,644.0 1552.3,643.8 1553.6,643.9 1554.9,644.8 1556.2,645.4 1557.5,645.0 1558.8,644.9 1560.1,644.6 1561.4,645.1 1562.7,645.6 1564.0,645.4 1565.3,646.0 1566.6,645.9 1567.9,646.6 1569.2,646.3 1570.5,646.8 1571.8,646.4 1573.1,646.0 1574.4,646.4 1575.7,646.3 1577.0,647.8 1578.3,646.9 1579.6,647.0 1580.9,647.1 1582.2,647.7 1583.5,647.1 1584.8,648.1 1586.1,648.2 1587.4,648.2 1588.7,647.9 1590.0,648.2 1591.3,648.4 1592.6,648.2 1593.9,648.6 1595.2,648.4 1596.5,648.9 1597.8,648.5 1599.0,648.5"/>
<polyline class="c" stroke="#008080" points="166.5,445.2 168.4,445.2 170.3,436.6 172.2,433.4 174.1,451.1 176.0,447.6 177.9,446.7 179.8,444.5 181.7,430.3 183.6,437.2 185.5,450.7 187.4,427.9 189.3,447.1 191.2,447.0 193.1,426.2 195.0,440.8 196.9,438.0 198.8,438.9 200.7,435.8 202.6,430.5 204.5,430.5 206.4,436.4 208.3,431.4 210.2,439.8 212.1,429.2 214.0,420.8 215.9,419.2 217.8,415.2 219.7,429.9 221.6,417.9 223.5,414.1 225.4,428.2 227.3,420.2 229.2,406.7 231.1,416.6 233.0,405.6 234.9,416.8 236.8,401.7 238.7,408.5 240.6,418.2 242.5,415.0 244.4,396.3 246.3,417.6 248.2,409.7 250.1,410.8 252.0,411.2 253.9,414.5 255.8,395.7 257.7,411.0 259.6,411.7 261.5,410.4 263.4,389.6 265.3,397.1 267.2,396.9 269.1,397.9 271.0,396.4 272.9,387.0 274.8,407.5 276.7,384.9 278.6,397.2 280.5,397.1 282.4,405.9 284.3,387.0 286.2,383.6 288.1,402.4 290.0,380.3 291.9,398.2 293.8,396.2 295.7,397.2 297.6,396.6 299.5,379.3 301.4,376.8 303.3,377.3 305.2,386.0 307.1,369.7 309.0,383.2 310.9,386.8 312.8,381.9 314.7,383.2 316.6,371.7 318.5,367.6 320.4,367.6 322.3,378.8 324.2,362.4 326.1,371.7 328.0,372.6 329.9,376.5 331.8,363.7 333.7,375.1 335.6,384.3 337.5,372.9 339.4,373.1 341.3,381.7 343.2,376.1 345.1,366.1 347.0,354.3 348.9,372.2 350.8,367.4 352.7,367.2 354.6,368.8 356.5,366.3 358.4,357.6 360.3,359.4 362.2,366.9 364.1,366.8 366.0,353.4 367.9,348.5 369.8,357.9 371.7,355.8 373.6,366.3 375.5,356.5 377.4,356.9 379.3,353.9 381.2,364.5 383.1,369.0 385.0,349.7 386.9,362.6 388.8,350.5 390.7,353.4 392.6,368.3 394.5,355.5 396.4,355.5 398.3,358.3 400.2,356.5 402.1,339.9 404.0,359.5 405.9,342.4 407.8,356.1 409.7,352.6 411.6,348.8 413.5,359.1 415.4,343.7 417.3,356.3 419.2,353.3 421.1,342.3 423.0,358.4 424.9,349.3 426.8,348.7 428.7,338.4 430.6,344.0 432.5,339.3 434.4,347.3 436.3,341.9 438.2,337.8 440.1,342.2 442.0,339.7 443.9,352.8 445.8,353.0 447.7,339.4 449.6,352.1 451.5,336.9 453.4,340.6 455.3,349.5 457.2,350.9 459.1,345.8 461.0,342.7 462.9,343.8 464.8,353.6 466.7,346.3 468.6,353.9 470.5,355.4 472.4,355.1 474.3,345.8 476.2,348.0 478.1,339.9 480.0,355.2 481.9,355.9 483.8,352.9 485.7,347.3 487.6,338.5 489.5,343.4 491.4,339.4 493.3,341.5 495.2,343.8 497.1,347.2 499.0,354.4 500.9,342.5 502.8,347.8 504.7,354.0 506.6,340.6 508.5,345.7 510.4,348.9 512.3,341.6 514.2,338.2 516.1,349.0 518.0,338.2 519.9,348.7 521.8,345.4 523.7,342.0 525.6,341.1 527.5,354.1 529.4,348.0 531.3,340.2 533.2,349.8 535.1,341.2 537.0,353.3 538.9,349.7 540.8,349.0 542.7,354.2 544.6,346.1 546.5,344.9 548.4,351.1 550.3,351.4 552.2,334.3 554.1,347.8 556.0,342.6 557.9,348.5 559.8,344.4 561.7,348.0 563.6,344.3 565.5,335.8 567.4,333.3 569.3,345.6 571.2,339.1 573.1,344.3 575.0,331.5 576.9,337.4 578.8,333.8 580.7,344.2 582.6,341.3 584.5,331.2 586.4,339.8 588.3,343.1 590.2,330.4 592.1,339.3 594.0,344.1 595.9,332.1 597.8,340.9 599.7,331.9 601.6,342.1 603.5,331.6 605.4,334.0 607.3,332.7 609.2,332.3 611.1,340.3 613.0,327.6 614.9,329.4 616.8,334.7 618.7,329.3 620.6,330.5 622.5,333.0 624.4,336.0 626.3,332.9 628.2,327.1 630.1,325.4 632.0,325.0 633.9,332.7 635.8,330.6 637.7,320.7 639.6,326.8 641.5,328.4 643.4,325.1 645.3,324.9 647.2,328.7 649.1,320.4 651.0,316.8 652.9,322.7 654.8,322.7 656.7,326.6 658.6,324.1 660.5,323.1 662.4,325.0 664.3,317.2 666.2,315.4 668.1,320.1 670.0,317.6 671.9,316.3 673.8,311.5 675.7,316.3 677.6,315.8 679.5,311.1 681.4,308.7 683.3,317.8 685.2,307.6 687.1,305.9 689.0,313.5 690.9,309.2 692.8,314.9 694.7,306.9 696.6,309.6 698.5,301.7 700.4,310.8 702.3,312.7 704.2,308.4 706.1,309.4 708.0,299.2 709.9,306.8 711.8,301.5 713.7,297.6 715.6,305.7 717.5,302.1 719.4,295.9 721.3,295.8 723.2,293.8 725.1,299.1 727.0,299.2 728.9,291.1 730.8,301.5 732.7,293.0 734.6,296.6 736.5,297.4 738.4,297.5 740.3,294.6 742.2,293.1 744.1,290.0 746.0,287.8 747.9,293.7 749.8,288.9 751.7,290.7 753.6,289.9 755.5,280.9 757.4,280.2 759.3,277.0 761.2,277.2 763.1,275.8 765.0,283.5 766.9,283.5 768.8,277.7 770.7,276.3 772.6,278.1 774.5,271.5 776.4,276.9 778.3,273.4 780.2,274.9 782.1,275.6 784.0,272.0 785.9,268.5 787.8,267.7 789.7,265.4 791.6,270.2 793.5,265.1 795.4,267.0 797.3,261.5 799.2,260.3 801.1,259.6 803.0,260.2 804.9,263.2 806.8,260.1 808.7,254.5 810.6,251.1 812.5,253.9 814.4,251.4 816.3,255.0 818.2,250.6 820.1,247.8 822.0,253.7 823.9,252.1 825.8,246.9 827.7,245.4 829.6,247.6 831.5,247.9 833.4,246.2 835.3,246.7 837.2,242.8 839.1,238.9 841.0,240.8 842.9,240.2 844.8,234.0 846.7,233.3 848.6,235.2 850.5,233.4 852.4,232.4 854.3,232.5 856.2,229.6 858.1,227.3 860.0,228.0 861.9,224.4 863.8,227.4 865.7,223.3 867.6,221.6 869.5,222.2 871.4,216.7 873.3,219.8 875.2,213.8 877.1,218.5 879.0,214.2 880.9,209.4 882.8,211.2 884.7,210.5 886.6,208.5 888.5,204.3 890.4,209.9 892.3,204.3 894.2,206.7 896.1,205.8 898.0,199.6 899.9,202.7 901.8,196.7 903.7,195.6 905.6,191.9 907.5,196.8 909.4,191.5 911.3,193.0 913.2,192.1 915.1,190.3 917.0,185.7 918.9,187.1 920.8,191.2 922.7,187.5 924.6,183.5 926.5,182.8 928.4,184.1 930.3,181.2 932.2,185.8 934.1,182.1 936.0,179.4 937.9,178.5 939.8,176.2 941.7,180.5 943.6,179.5 945.5,179.2 947.4,179.8 949.3,175.6 951.2,178.5 953.1,172.3 955.0,176.9 956.9,170.0 958.8,168.7 960.7,168.6 962.6,171.2 964.5,168.8 966.4,171.5 968.3,168.2 970.2,168.7 972.1,167.6 974.0,164.3 975.9,165.7 977.8,164.0 979.7,164.4 981.6,169.6 983.5,169.2 985.4,169.1 987.3,169.8 989.2,165.6 991.1,166.2 993.0,170.0 994.9,163.5 996.8,165.7 998.7,165.7 1000.6,168.4 1002.5,170.4 1004.4,166.7 1006.3,172.3 1008.2,168.3 1010.1,170.0 1012.0,167.4 1013.9,169.7 1015.8,170.6 1017.7,173.6 1019.6,171.4 1021.5,175.8 1023.4,172.0 1025.3,174.1 1027.2,173.6 1029.1,176.4 1031.0,180.2 1032.9,181.4 1034.8,181.9 1036.7,178.4 1038.6,180.1 1040.5,181.0 1042.4,182.6 1044.3,182.8 1046.2,182.3 1048.1,186.5 1050.0,184.1 1051.9,188.9 1053.8,186.8 1055.7,187.9 1057.6,193.9 1059.5,193.7 1061.4,198.7 1063.3,196.0 1065.2,194.4 1067.1,195.2 1069.0,199.1 1070.9,197.3 1072.8,202.3 1074.7,203.5 1076.6,206.9 1078.5,206.8 1080.4,207.6 1082.3,211.2 1084.2,206.3 1086.1,213.4 1088.0,211.7 1089.9,209.0 1091.8,213.2 1093.7,216.0 1095.6,217.9 1097.5,213.8 1099.4,221.6 1101.3,215.3 1103.2,220.4 1105.1,223.7 1107.0,224.3 1108.9,224.8 1110.8,221.3 1112.7,229.2 1114.6,224.0 1116.5,225.4 1118.4,233.2 1120.3,230.0 1122.2,233.6 1124.1,235.1 1126.0,237.1 1127.9,237.2 1129.8,236.9 1131.7,236.7 1133.6,242.1 1135.5,240.9 1137.4,238.9 1139.3,244.3 1141.2,240.7 1143.1,243.8 1145.0,246.5 1146.9,248.5 1148.8,247.3 1150.7,248.5 1152.6,250.6 1154.5,252.6 1156.4,248.8 1158.3,250.2 1160.2,251.1 1162.1,254.2 1164.0,257.0 1165.9,252.3 1167.8,256.6 1169.7,252.8 1171.6,254.1 1173.5,258.5 1175.4,255.3 1177.3,255.9 1179.2,260.8 1181.1,260.0 1183.0,265.1 1184.9,262.1 1186.8,261.8 1188.7,265.0 1190.6,270.3 1192.5,263.3 1194.4,264.9 1196.3,272.6 1198.2,269.1 1200.1,269.6 1202.0,273.0 1203.9,273.7 1205.8,274.4 1207.7,274.7 1209.6,277.1 1211.5,277.0 1213.4,279.2 1215.3,276.9 1217.2,277.0 1219.1,283.0 1221.0,282.0 1222.9,283.3 1224.8,284.0 1226.7,285.6 1228.6,286.9 1230.5,280.8 1232.4,284.3 1234.3,285.2 1236.2,287.3 1238.1,287.8 1240.0,286.5 1241.9,287.0 1243.8,285.3 1245.7,288.9 1247.6,287.0 1249.5,293.9 1251.4,289.7 1253.3,291.1 1255.2,294.5 1257.1,298.5 1259.0,295.0 1260.9,296.7 1262.8,293.4 1264.7,298.8 1266.6,300.2 1268.5,298.2 1270.4,300.4 1272.3,294.8 1274.2,301.6 1276.1,296.7 1278.0,297.2 1279.9,298.6 1281.8,303.4 1283.7,299.3 1285.6,296.7 1287.5,297.4 1289.4,301.4 1291.3,300.9 1293.2,306.2 1295.1,304.3 1297.0,299.6 1298.9,304.2 1300.8,304.1 1302.7,306.1 1304.6,303.5 1306.5,305.8 1308.4,302.3 1310.3,307.7 1312.2,310.3 1314.1,308.1 1316.0,310.0 1317.9,306.7 1319.8,304.4 1321.7,311.4 1323.6,305.2 1325.5,312.0 1327.4,305.9 1329.3,306.6 1331.2,313.1 1333.1,309.7 1335.0,309.6 1336.9,312.6 1338.8,311.5 1340.7,312.5 1342.6,312.7 1344.5,311.6 1346.4,310.6 1348.3,311.2 1350.2,310.6 1352.1,312.6 1354.0,310.3 1355.9,316.6 1357.8,311.9 1359.7,312.5 1361.6,316.7 1363.5,313.6 1365.4,313.6 1367.3,311.4 1369.2,317.9 1371.1,313.4 1373.0,314.7 1374.9,315.0 1376.8,317.4 1378.7,312.9 1380.6,318.3 1382.5,316.0 1384.4,318.6 1386.3,317.6 1388.2,320.2 1390.1,314.0 1392.0,318.0 1393.9,317.2 1395.8,319.1 1397.7,320.0 1399.6,319.4 1401.5,314.7 1403.4,317.1 1405.3,317.8 1407.2,316.5 1409.1,317.4 1411.0,315.7 1412.9,319.9 1414.8,319.6 1416.7,317.7 1418.6,321.9 1420.5,320.5 1422.4,321.0 1424.3,317.7 1426.2,315.5 1428.1,317.7 1430.0,319.7 1431.9,316.9 1433.8,320.4 1435.7,317.4 1437.6,320.1 1439.5,319.5 1441.4,316.8 1443.3,319.0 1445.2,318.4 1447.1,318.8 1449.0,314.2 1450.9,307.9 1452.8,300.2 1454.7,299.0 1456.6,298.3 1458.5,300.3 1460.4,301.4 1462.3,306.3 1464.2,313.4 1466.1,315.9 1468.0,321.0 1469.9,321.1 1471.8,320.6 1473.7,321.7 1475.6,321.0 1477.5,323.8 1479.4,322.5 1481.3,322.7 1483.2,322.2 1485.1,325.3 1487.0,325.5 1488.9,323.4 1490.8,323.5 1492.7,326.1 1494.6,326.7 1496.5,325.6 1498.4,325.3 1500.3,326.0 1502.2,326.4 1504.1,325.6 1506.0,324.7 1507.9,326.0 1509.8,324.5 1511.7,323.8 1513.6,324.4 1515.5,323.7 1517.4,325.9 1519.3,327.9 1521.2,326.2 1523.1,327.1 1525.0,327.9 1526.9,328.5 1528.8,327.7 1530.7,328.3 1532.6,328.6 1534.5,328.8 1536.4,326.2 1538.3,326.7 1540.2,327.4 1542.1,327.1 1544.0,329.4 1545.9,329.1 1547.8,325.6 1549.7,327.6 1551.6,328.0 1553.5,328.6 1555.4,330.0 1557.3,328.1 1559.2,326.9 1561.1,329.2 1563.0,326.5 1564.9,326.9 1566.8,328.9 1568.7,329.6 1570.6,326.9 1572.5,327.1 1574.4,326.5 1576.3,328.8 1578.2,329.0 1580.1,329.7 1582.0,328.6 1583.9,327.0 1585.8,329.1 1587.7,331.2 1589.6,329.1 1591.5,328.3 1593.4,329.5 1595.3,330.6 1597.2,329.5 1599.0,329.5"/>
<text class="s" x="195.6" y="275.0" font-size="54.3">(g) 100/0</text>
<text class="s" x="189.6" y="639.0" font-size="54.3">(f) 90/10</text>
<text class="s" x="196.6" y="903.2" font-size="54.3">(e) 70/30</text>
<text class="s" x="183.7" y="1180.1" font-size="54.3">(d) 50/50</text>
<text class="s" x="185.6" y="1443.2" font-size="54.3">(c) 30/70</text>
<text class="s" x="187.5" y="1750.8" font-size="54.3">(b) 10/90</text>
<text class="s" x="200.4" y="2031.9" font-size="54.3">(a) 0/100</text>
<text class="s" x="250.7" y="2276.3" font-size="58.8" text-anchor="middle">0.5</text>
<text class="s" x="672.1" y="2276.3" font-size="58.8" text-anchor="middle">1.0</text>
<text class="s" x="1093.4" y="2276.3" font-size="58.8" text-anchor="middle">1.5</text>
<text class="s" x="1514.8" y="2276.3" font-size="58.8" text-anchor="middle">2.0</text>
<text class="s" transform="translate(71,1299) rotate(-90)" font-size="71.5">Intensity</text>
<text class="s" x="760.5" y="2405" font-size="72.5" font-style="italic">q</text>
<text class="s" x="819.5" y="2405" font-size="72.5">(nm</text>
<text class="s" x="943.2" y="2366" font-size="43.3">-1</text>
<text class="s" x="985" y="2405" font-size="72.5">)</text>
</svg></body></html>
